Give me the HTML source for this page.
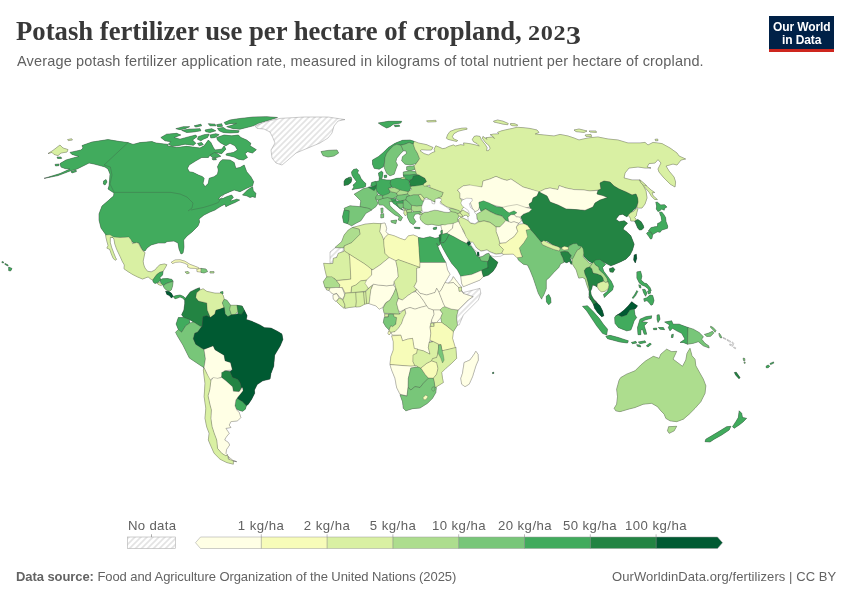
<!DOCTYPE html>
<html><head><meta charset="utf-8"><title>Potash fertilizer use per hectare of cropland, 2023</title>
<style>
html,body{margin:0;padding:0;background:#fff;}
body{width:850px;height:600px;position:relative;overflow:hidden;font-family:"Liberation Sans",sans-serif;}
.t{position:absolute;white-space:nowrap;line-height:1;transform-origin:0 0;will-change:transform;}
#title{left:16px;top:18.2px;font-family:"Liberation Serif",serif;font-weight:bold;font-size:26.7px;color:#383838;}
.os{display:inline-block;font-size:20.2px;transform:scaleX(1.2);transform-origin:0 100%;letter-spacing:.55px;margin-right:5.4px}
.os3{display:inline-block;font-size:24.6px;transform:scaleX(1.22);transform-origin:0 100%;position:relative;top:3.5px}
#sub{left:16.5px;top:54.3px;font-size:14.5px;letter-spacing:.16px;color:#616161;}
#logo{position:absolute;left:769px;top:16px;width:65px;height:36px;background:#002147;}
#logo:after{content:"";position:absolute;left:0;right:0;bottom:0;height:3px;background:#ce261e;}
#logo .t{color:#fff;font-weight:bold;font-size:12px;letter-spacing:-.1px;}
.ft{font-size:13px;color:#636363;top:570.2px;}
#f1{letter-spacing:-.075px}
#f2{letter-spacing:.08px}
.lg{font-size:13.2px;color:#616161;top:518.8px;letter-spacing:.3px}
.c{transform:translateX(-50%);letter-spacing:.45px}
svg{position:absolute;left:0;top:0;}
#map path{stroke:#3c3c3c;stroke-width:.35;stroke-linejoin:round;stroke-opacity:.75}
</style></head><body>
<div id="title" class="t">Potash fertilizer use per hectare of cropland, <span class="os">202</span><span class="os3">3</span></div>
<div id="sub" class="t">Average potash fertilizer application rate, measured in kilograms of total nutrient per hectare of cropland.</div>
<div id="logo"><div class="t" id="lg1" style="left:3.6px;top:5.2px">Our World</div><div class="t" id="lg2" style="left:13.2px;top:17.5px">in Data</div></div>
<svg width="850" height="600" viewBox="0 0 850 600">
<defs>
<pattern id="hatch" width="6" height="6" patternUnits="userSpaceOnUse"><rect width="6" height="6" fill="#fff"/><path d="M-1.5,1.5L1.5,-1.5M-1,7L7,-1M4.5,7.5L7.5,4.5" stroke="#e3e3e3" stroke-width="1.6"/></pattern>
</defs>
<g id="map">
<path d="M44,178.4 52,176 60,173.6 70,169 65,168.6 61,167 60,163.6 66,160 73,158 79,156.4 72,154.4 70,152.4 81,150 83,148 82,145.6 92,142 108,139.6 120,141.6 128,142.6 133,144.4 140,142.6 152,141.6 156,143 168,144.4 167.5,145.83 176.67,147.5 186.67,146.33 200,148 204.17,145.83 208.33,140 210.83,142.5 213.33,147.5 215,150 221.67,149.17 224.17,145.83 225.83,149.17 221.67,153.67 215.83,152.5 210,155 208.33,157.5 201.67,157.5 195.83,160.83 189.17,165 187.5,168.33 189.17,171.67 193.33,172.5 198.33,175 202.5,176.67 204.17,178.33 203,183.33 205,186.67 208.33,183.33 209.17,178.33 214.17,176.67 217.5,174.17 218.33,170 217.5,166.67 220,161.67 222.5,159.67 230,160 234.17,162.5 235.83,168.33 240,167.5 244.17,165 246.67,171.67 250.83,176.67 253.67,181.67 252.5,185.83 246.67,188.33 240,191.67 234.17,190 230,191.67 224.17,194.17 220,196.67 218.33,199.17 223.33,198.33 226.67,196.67 231.67,195 233.33,197.5 230,200.83 231.67,200.83 236.67,199.17 239.67,200 235,202.5 229.17,205 225.83,206.67 225,204.17 221.67,205.83 217.5,208.33 215,210 215,210 210,212 204,215 199,219 199.6,222 198,226 192,232 187,236 183.6,240 184,247 183,253 181,254 179,249 178,243 174,241 167,241.6 165,243 158,243 151,245 147,248 145,251 142.4,250 139,243 133,242.4 130,239 123,237.6 114,238 106,235 101,228 99,220 99,214 102,206 109,200 110,199 113.6,196 114,193 111,191 108,189 109,186 109.6,180 110,174 108,169 105,167 100,165.6 94,164 89,163 83,166 77,169 70,171 58,175.6Z" fill="#41ab5d" stroke="#41ab5d" stroke-width="1.3" stroke-opacity="1"/>
<path d="M242.5,195 247.5,190 252.5,186.67 253.33,190.83 255.83,193.33 255.33,197.5 252.5,196.67 250,197.5 246.67,195.83Z" fill="#41ab5d" stroke="#41ab5d" stroke-width="1.3" stroke-opacity="1"/>
<path d="M216.67,137.5 224.17,135 231.67,135.83 238.33,135 240.83,137.5 246.67,140 250.83,143.33 250,145.83 256.33,149.67 252.5,153 247.5,151.67 245,153.67 247.5,157.5 243.33,160 238.33,159.17 234.17,157 225.83,155 226.67,153.67 233.33,152.5 237.5,150 235,145.83 230,143.33 225.83,145.83 220,142.5 217.5,140Z" fill="#41ab5d" stroke="#41ab5d" stroke-width="1.3" stroke-opacity="1"/>
<path d="M224.17,122.5 230,120 238.33,118.67 253.33,117 266.67,116.67 277.5,117.5 268.33,120.33 258.33,123.33 253.33,125.83 246.67,127.5 240,129.17 233.33,128.67 226.67,126.67 231.67,125.33 236.67,123.33 230,123.67 225.83,124.67Z" fill="#41ab5d" stroke="#41ab5d" stroke-width="1.3" stroke-opacity="1"/>
<path d="M217.5,128.33 223.33,127.5 226.67,129.67 233.33,130.33 239.17,130.83 238.33,132.5 230,133 223.33,132.5 219.17,130.83Z" fill="#41ab5d" stroke="#41ab5d" stroke-width="1.3" stroke-opacity="1"/>
<path d="M175.83,128.67 183.33,126.67 189.67,126.67 185,128.67 180,129.67Z" fill="#41ab5d" stroke="#41ab5d" stroke-width="1.3" stroke-opacity="1"/>
<path d="M181.67,130.33 189.17,129.17 200,128.67 200.83,130.83 193.33,132 186.67,132.5Z" fill="#41ab5d" stroke="#41ab5d" stroke-width="1.3" stroke-opacity="1"/>
<path d="M194.17,125.83 200.83,124.17 201.67,125.83 195.83,127Z" fill="#41ab5d" stroke="#41ab5d" stroke-width="1.3" stroke-opacity="1"/>
<path d="M208.33,123.67 215,124.17 215.83,125.83 210,125.83Z" fill="#41ab5d" stroke="#41ab5d" stroke-width="1.3" stroke-opacity="1"/>
<path d="M205,130 211.67,128.67 215.83,130.83 210,132.5 205.83,131.67Z" fill="#41ab5d" stroke="#41ab5d" stroke-width="1.3" stroke-opacity="1"/>
<path d="M216.67,124.67 221.67,123.67 222.5,126.33 217.5,126.67Z" fill="#41ab5d" stroke="#41ab5d" stroke-width="1.3" stroke-opacity="1"/>
<path d="M160.83,137.5 166.67,134.17 176.67,133.33 180.83,135 174.17,137.5 180,139.17 189.17,136.67 195.83,135 197,136.67 192.5,140 195.83,143.33 193.33,145.33 185,144.17 177.5,145.83 172.5,146.33 168.33,144.17 170.83,141.67 165,140.83Z" fill="#41ab5d" stroke="#41ab5d" stroke-width="1.3" stroke-opacity="1"/>
<path d="M198.33,136.67 204.17,134.67 209.17,134.17 207.5,137.5 203.33,139.17 200.83,140.83 197.5,139.17Z" fill="#41ab5d" stroke="#41ab5d" stroke-width="1.3" stroke-opacity="1"/>
<path d="M210,135 215.83,133.67 219.17,134.67 215,137.5 210.83,138Z" fill="#41ab5d" stroke="#41ab5d" stroke-width="1.3" stroke-opacity="1"/>
<path d="M197.5,143.33 201.67,142.5 203.33,144.67 199.17,145.83Z" fill="#41ab5d" stroke="#41ab5d" stroke-width="1.3" stroke-opacity="1"/>
<path d="M210,155.33 214.17,152.5 217.5,153.67 220.83,156.33 216.67,157.5 212.5,157.5Z" fill="#41ab5d" stroke="#41ab5d" stroke-width="1.3" stroke-opacity="1"/>
<path d="M212,158.67 215.83,158 216.33,159.67 213,160Z" fill="#41ab5d" stroke="#41ab5d" stroke-width="1.3" stroke-opacity="1"/>
<path d="M103.6,181 106,179.6 107,182 105,185 103.4,184Z" fill="#41ab5d" stroke="#41ab5d" stroke-width="1.3" stroke-opacity="1"/>
<path d="M71,171.6 76,170 76.4,171.6 72,173Z" fill="#41ab5d" stroke="#41ab5d" stroke-width="1.3" stroke-opacity="1"/>
<path d="M57,157 61,157 61.6,158.4 57.6,158.4Z" fill="#41ab5d" stroke="#41ab5d" stroke-width="1.3" stroke-opacity="1"/>
<path d="M55,164.4 59,164 59,165.6 55.6,166Z" fill="#41ab5d" stroke="#41ab5d" stroke-width="1.3" stroke-opacity="1"/>
<path d="M48,153.6 53,150.4 60,145 63,148 68,149.6 67,152 61,153 58,155.6 54,154.4 52,152.4Z" fill="#d9f0a3" stroke="#d9f0a3" stroke-width="1.3" stroke-opacity="1"/>
<path d="M67.6,139.6 71.6,138.8 72.4,140 68.4,140.6Z" fill="#d9f0a3" stroke="#d9f0a3" stroke-width="1.3" stroke-opacity="1"/>
<path d="M321,151.6 328,150.4 337,150 338.6,153 334,156 328,157 323,155.6Z" fill="#78c679" stroke="#78c679" stroke-width="1.3" stroke-opacity="1"/>
<path d="M197,269 201,268.4 201,272 197,271.6Z" fill="#f7fcb9" stroke="#f7fcb9" stroke-width="1.3" stroke-opacity="1"/>
<path d="M201,268.4 206,269 207.6,271.6 204,273 201,272.4Z" fill="#78c679" stroke="#78c679" stroke-width="1.3" stroke-opacity="1"/>
<path d="M210,271.6 214,271.6 214,273 210,273Z" fill="#addd8e" stroke="#addd8e" stroke-width="1.3" stroke-opacity="1"/>
<path d="M220.4,292 223,291.6 223,294 221,294Z" fill="#41ab5d" stroke="#41ab5d" stroke-width="1.3" stroke-opacity="1"/>
<path d="M105.62,235 110,234.75 113.75,236.88 120,237.5 125,237.25 128.75,236.88 131.25,240 132.5,243.75 136.88,242.5 138.75,243.75 140.62,247.5 143.12,251.25 145,252.5 144,256.88 143.12,261.25 143.75,265 145,268.12 147.5,271.25 151.25,271.88 155,270 157.5,266.88 160,264.75 164.38,264 166.88,264.75 165,268.12 163.12,271.25 160,272.25 156.88,274.38 155,276.88 152.75,280 151.25,279.38 148.12,276.88 142.5,279 137.5,276.88 132.5,274.38 127.5,271.25 124,268.75 124.38,265 122.25,261.25 120.62,257.5 118.5,253.12 116.5,248.75 114.75,243.75 114,239 112.5,237.25 110.25,237.5 110.25,242.5 111.62,247.5 113.5,252.5 115.38,257.25 116.5,259.38 115,260.25 113.12,258.12 111.25,253.75 109.75,249.38 106.88,248.12 108.12,245.62 106.88,241.25 106,237.5Z" fill="#d9f0a3" stroke="#d9f0a3" stroke-width="1.3" stroke-opacity="1"/>
<path d="M152.75,280 155,276.88 156.88,274.38 160,272.25 163.12,271.5 162.5,275 160,277.5 160.62,280 158.12,282.5 155,283.5 153.12,281.88Z" fill="#41ab5d" stroke="#41ab5d" stroke-width="1.3" stroke-opacity="1"/>
<path d="M160,280 162.5,278.75 167.5,278.5 171.88,279.38 173.12,281.25 168.75,282.5 165.62,283.75 163.12,285.62 161.25,283.75Z" fill="#41ab5d" stroke="#41ab5d" stroke-width="1.3" stroke-opacity="1"/>
<path d="M157.25,282.75 160,282.75 162.25,284.38 161.25,285.62 158.12,284.38Z" fill="#d9f0a3" stroke="#d9f0a3" stroke-width="1.3" stroke-opacity="1"/>
<path d="M163.12,285.88 166,283.75 168.75,282.75 173.12,281.5 172.5,286.25 171.25,290 169.38,291.25 166.25,290 164.38,288.12Z" fill="#78c679" stroke="#78c679" stroke-width="1.3" stroke-opacity="1"/>
<path d="M165.62,291.25 168.75,291.5 171.25,293.12 173.12,296.25 171.5,298.12 169.38,295.62 166.88,294.38Z" fill="#005a32" stroke="#005a32" stroke-width="1.3" stroke-opacity="1"/>
<path d="M173.12,296.5 176.25,295.62 180,295 183.12,296.25 185.25,298.12 186.88,300 184.38,299.75 182.5,298.12 180,296.88 177.5,298.12 175,298.75Z" fill="#41ab5d" stroke="#41ab5d" stroke-width="1.3" stroke-opacity="1"/>
<path d="M171.25,262.25 175,260 180,259.75 185,261.25 190,264.38 195,266.25 198.75,267.75 198.5,269 195,268.38 190,268.12 187.5,266.88 188.12,265 184.38,263.12 180,261.88 175.62,262.25 172.5,263.5Z" fill="#f7fcb9" stroke="#f7fcb9" stroke-width="1.3" stroke-opacity="1"/>
<path d="M185,271.88 188.12,271.5 189.38,273.12 186.88,273.75Z" fill="#addd8e" stroke="#addd8e" stroke-width="1.3" stroke-opacity="1"/>
<path d="M184.76,299.26 190.26,291.92 195.76,289.17 199.43,287.7 199.98,290.09 196.68,292.84 195.76,297.42 198.51,301.09 206.76,302.92 207.31,310.26 210.43,317.59 206.76,315.76 203.1,316.68 202.18,326.76 199.43,325.85 193.93,322.18 189.34,319.43 183.84,317.59 181.64,314.84 183.84,310.26 184.76,303.84Z" fill="#238443" stroke="#238443" stroke-width="1.3" stroke-opacity="1"/>
<path d="M196.68,292.84 199.98,290.09 203.1,288.8 206.76,291.37 215.02,293.2 221.43,293.2 223.27,295.59 224.18,299.26 222.35,302.92 224.18,307.51 219.6,309.34 215.93,310.26 215.02,313.93 210.43,317.59 207.31,310.26 206.76,302.92 198.51,301.09 195.76,297.42Z" fill="#d9f0a3" stroke="#d9f0a3" stroke-width="1.3" stroke-opacity="1"/>
<path d="M224.18,299.26 226.94,300.17 230.6,305.31 229.69,309.34 231.52,314.84 227.85,316.68 225.1,313.93 224.18,307.51 222.35,302.92Z" fill="#78c679" stroke="#78c679" stroke-width="1.3" stroke-opacity="1"/>
<path d="M230.6,305.31 237.02,305.31 237.94,311.18 235.19,314.48 231.52,314.84 229.69,309.34Z" fill="#addd8e" stroke="#addd8e" stroke-width="1.3" stroke-opacity="1"/>
<path d="M237.02,305.31 242.16,306.04 244.36,310.26 241.61,314.48 237.94,313.93 237.94,311.18Z" fill="#238443" stroke="#238443" stroke-width="1.3" stroke-opacity="1"/>
<path d="M178.34,317.59 183.84,317.59 189.34,319.43 189.71,323.1 185.67,325.85 181.64,332.26 178.34,329.51 176.14,324.01Z" fill="#41ab5d" stroke="#41ab5d" stroke-width="1.3" stroke-opacity="1"/>
<path d="M175.59,332.26 178.34,329.51 181.64,332.26 185.67,325.85 189.71,323.1 193.93,322.18 199.43,325.85 201.26,327.31 197.59,332.26 194.84,333.18 193.38,338.68 195.76,344.18 201.26,347.85 204.01,349.69 205.48,358.86 204.01,367.66 199.43,364.72 189.34,357.94 182.92,345.1 177.42,335.93Z" fill="#78c679" stroke="#78c679" stroke-width="1.3" stroke-opacity="1"/>
<path d="M204.01,349.32 213.18,345.65 215.02,349.69 224.18,355.19 225.1,360.69 230.6,362.52 232.44,369.86 224.18,370.78 221.43,377.19 216.85,379.03 212.26,378.11 209.51,380.86 206.76,373.53 204.01,367.66 205.48,358.86Z" fill="#ffffe5" stroke="#ffffe5" stroke-width="1.3" stroke-opacity="1"/>
<path d="M210.43,317.59 215.02,313.93 215.93,310.26 219.6,309.34 224.18,307.51 225.1,313.93 227.85,316.68 231.52,314.84 235.19,314.48 237.94,313.93 241.61,314.48 244.36,310.26 247.11,315.76 246.19,319.43 251.69,321.26 259.94,324.93 264.53,327.68 270.95,328.05 277.37,331.35 281.95,334.1 282.87,339.6 280.12,346.02 277.37,350.6 274.62,355.19 273.7,366.19 270.95,373.53 270.03,379.03 262.7,380.86 257.19,384.53 254.44,390.03 254.67,393.33 251.67,399.17 248.33,404.17 246.33,405.83 242.5,401.67 237.5,398.67 237.5,397.5 243,390.83 242.5,387.5 241.33,387.5 240,382.5 237.5,379.17 232.5,377.5 230,371.67 232.44,369.86 230.6,362.52 225.1,360.69 224.18,355.19 215.02,349.69 213.18,345.65 204.01,349.32 201.26,347.85 195.76,344.18 193.38,338.68 194.84,333.18 197.59,332.26 201.26,327.31 202.18,326.76 203.1,316.68 206.76,315.76Z" fill="#005a32" stroke="#005a32" stroke-width="1.3" stroke-opacity="1"/>
<path d="M221.67,377.5 221.67,372.5 225.83,370.83 230,371.67 232.5,377.5 237.5,379.17 240,382.5 241.33,387.5 239.17,391.67 233.33,391.33 232.5,386.67 225.83,380.83Z" fill="#238443" stroke="#238443" stroke-width="1.3" stroke-opacity="1"/>
<path d="M235.83,400 237.5,398.67 242.5,401.67 246.33,405.83 245.33,409.17 242.5,411.33 238.33,410 235.83,408.33 235,405.83Z" fill="#41ab5d" stroke="#41ab5d" stroke-width="1.3" stroke-opacity="1"/>
<path d="M210.83,380.83 213.33,377.5 217.5,378.33 221.67,377.5 225.83,380.83 232.5,386.67 233.33,391.33 239.17,391.67 242.5,387.5 243,390.83 237.5,397.5 235.83,400 235,405.83 236.67,410 239.17,412.5 240.83,417.5 237.5,420.83 230.83,421.67 229.17,425 230.83,427.5 225.83,428.33 227.5,430.83 229.17,433.33 225.83,437.5 224.67,440 228.33,442.5 229.67,445 226.67,449.17 225.83,453.33 227.5,455 225.83,455.83 221.67,453.33 217.5,448.33 216.67,440 214.17,433.33 212,426.67 210.83,418.33 211.33,410 210,405 208,395.83 209.67,390Z" fill="#ffffe5" stroke="#ffffe5" stroke-width="1.3" stroke-opacity="1"/>
<path d="M228,456.33 233.33,460.83 236.67,461.67 230,460Z" fill="#ffffe5" stroke="#ffffe5" stroke-width="1.3" stroke-opacity="1"/>
<path d="M204.01,367.66 206.76,373.53 210.83,380.83 209.67,390 208,395.83 210,405 211.33,410 210.83,418.33 212,426.67 214.17,433.33 216.67,440 217.5,448.33 221.67,453.33 225.83,455.83 227.5,455 228.33,459.17 233.33,460.83 233.33,464.17 226.67,462.5 220,459.17 214.17,453.33 210.83,445.83 208.33,440 209.17,433.33 206.67,426.67 205,418.33 205.83,408.33 204.17,396.67 205,383.33 203.33,370Z" fill="#d9f0a3" stroke="#d9f0a3" stroke-width="1.3" stroke-opacity="1"/>
<path d="M378.33,123 388.33,121.33 401.67,121.33 400.83,123 393.33,124.17 390,126.67 386.67,128 381.67,125.33Z" fill="#41ab5d" stroke="#41ab5d" stroke-width="1.3" stroke-opacity="1"/>
<path d="M394.17,125.33 399.17,125 399.67,126.33 395,126.67Z" fill="#41ab5d" stroke="#41ab5d" stroke-width="1.3" stroke-opacity="1"/>
<path d="M426.67,120.83 435.83,120.33 436.17,121.67 427.5,122Z" fill="#d9f0a3" stroke="#d9f0a3" stroke-width="1.3" stroke-opacity="1"/>
<path d="M372.5,160 378.33,156.67 383.33,152.5 388.33,147.5 395,143.33 402.5,140.33 410,140 414.17,141.33 413.33,144.17 409.17,142.5 405,144.17 400.83,145 396.67,144.17 393.33,145.83 390,149.17 386.67,153.33 385,157.5 384.67,161.67 383.33,166.67 379.17,169.17 374.17,168.33 372.5,164.17Z" fill="#41ab5d" stroke="#41ab5d" stroke-width="1.3" stroke-opacity="1"/>
<path d="M385,157.5 386.67,153.33 390,149.17 393.33,145.83 396.67,144.33 400.83,145.33 402,147.5 403.33,150.83 400,154.17 396.67,158.33 395.83,161.67 397.5,165 395.83,169.17 394.17,174.17 390,175.83 386.67,173.33 384.17,167.5 384.67,161.67Z" fill="#78c679" stroke="#78c679" stroke-width="1.3" stroke-opacity="1"/>
<path d="M400.83,145.33 405,144.17 409.17,142.5 413.33,144.17 415,149.17 417.5,153.33 419.67,158.67 415.83,163.67 410,165 405,164.17 401.67,160.83 402.5,156.67 406.67,153.33 405.83,150.83 403.33,150.83 402,147.5Z" fill="#78c679" stroke="#78c679" stroke-width="1.3" stroke-opacity="1"/>
<path d="M406.67,166.67 414.17,165.83 415,169.17 410,170.83 406.67,170Z" fill="#78c679" stroke="#78c679" stroke-width="1.3" stroke-opacity="1"/>
<path d="M403.33,172 410,170.83 415.83,171.67 416.67,174.17 410,175 403.33,175Z" fill="#78c679" stroke="#78c679" stroke-width="1.3" stroke-opacity="1"/>
<path d="M403.33,175 410,175 416.67,174.17 419.17,175 413.33,176.17 412.5,179.17 408.33,180.33 404.17,178.33Z" fill="#41ab5d" stroke="#41ab5d" stroke-width="1.3" stroke-opacity="1"/>
<path d="M409.17,180.83 412.5,179.17 413.33,176.17 419.17,175 425,178.33 426.67,181.67 423.33,184.17 424.17,186.33 418.33,186.67 411.67,185.83 410.83,187.5Z" fill="#238443" stroke="#238443" stroke-width="1.3" stroke-opacity="1"/>
<path d="M390.83,180 396.67,178.33 403.33,178 404.17,178.33 408.33,180.33 409.17,180.83 409.17,183.33 410.83,187.5 409.17,191.33 403.33,192 397.5,189.5 391.67,187 390,183.33Z" fill="#41ab5d" stroke="#41ab5d" stroke-width="1.3" stroke-opacity="1"/>
<path d="M375.83,181.67 379.17,180.83 379.17,178.33 381.67,179.17 386.67,180 390.83,180 390,183.33 391.67,187 388.33,188.33 390,191.67 388.33,195.33 383.33,196 378.67,193.67 375.83,189.5 376.33,185Z" fill="#41ab5d" stroke="#41ab5d" stroke-width="1.3" stroke-opacity="1"/>
<path d="M371.67,182.5 375.83,181.33 376.33,185 373.33,186.67 370.83,185.83Z" fill="#41ab5d" stroke="#41ab5d" stroke-width="1.3" stroke-opacity="1"/>
<path d="M368.33,187 373.33,186.67 376.33,185.33 375.83,189.5 373.33,191.17 370,189.67Z" fill="#238443" stroke="#238443" stroke-width="1.3" stroke-opacity="1"/>
<path d="M354.17,194.17 360,190.83 363.33,188.67 368.33,187.5 374.17,190.83 375.83,188.33 376.67,190.83 377.5,195 375.83,196.67 375.83,199.17 378,203.33 375.83,206.67 371.67,209.67 368.33,208.33 360,206.67 360.83,200.83 356.67,196.67Z" fill="#78c679" stroke="#78c679" stroke-width="1.3" stroke-opacity="1"/>
<path d="M380.83,208.33 383,208 383,212.5 381.33,213.33Z" fill="#78c679" stroke="#78c679" stroke-width="1.3" stroke-opacity="1"/>
<path d="M344.17,208.33 350,205.83 360,206.67 368.33,208.33 371.67,210 365.83,213.33 362.5,218.33 360.83,220.83 355.83,223.33 351.67,225.83 347.5,223.67 348.67,220 349.17,210.83 344.67,210Z" fill="#78c679" stroke="#78c679" stroke-width="1.3" stroke-opacity="1"/>
<path d="M344.17,210 349.17,210.83 348.67,220 347.5,223.67 343.67,222.5 342.5,216.67Z" fill="#41ab5d" stroke="#41ab5d" stroke-width="1.3" stroke-opacity="1"/>
<path d="M378,200.83 378.33,200 383,198.33 387.5,197.5 392.5,199.17 393.33,201.67 389.17,201.67 390,205.83 394.17,210 399.17,214.17 402.5,217.5 400.83,220.83 398.33,220 399.17,216.67 395,215 390.83,211.67 386.67,208.33 383.33,205 379.17,205Z" fill="#78c679" stroke="#78c679" stroke-width="1.3" stroke-opacity="1"/>
<path d="M390.83,220.83 396.67,220 395.83,223.67 391.67,222.5Z" fill="#78c679" stroke="#78c679" stroke-width="1.3" stroke-opacity="1"/>
<path d="M380.83,214.17 383.67,213.67 383.67,217.5 380.83,218Z" fill="#78c679" stroke="#78c679" stroke-width="1.3" stroke-opacity="1"/>
<path d="M375.83,196.67 377.5,195 382.5,195.83 383,198.33 378.33,200 375.83,199.17Z" fill="#78c679" stroke="#78c679" stroke-width="1.3" stroke-opacity="1"/>
<path d="M382.5,195.83 388.33,193.67 390.83,191.67 396.67,193 397.5,195.33 396.67,196.67 392.5,198.67 387.5,197.5 383,198.33Z" fill="#78c679" stroke="#78c679" stroke-width="1.3" stroke-opacity="1"/>
<path d="M388.33,188.33 394.17,187.5 400,190 396.67,193 390.83,191.67Z" fill="#addd8e" stroke="#addd8e" stroke-width="1.3" stroke-opacity="1"/>
<path d="M396.67,193 400,190 408.33,191.67 407.5,194 401.67,195 397.5,195.33Z" fill="#addd8e" stroke="#addd8e" stroke-width="1.3" stroke-opacity="1"/>
<path d="M396.67,196.67 397.5,195.33 401.67,195 407.5,194 410,195.83 406.67,196.67 405.83,200 403.33,200.33 400,201.17 395.83,198.67Z" fill="#78c679" stroke="#78c679" stroke-width="1.3" stroke-opacity="1"/>
<path d="M390.83,199.17 392.5,198.67 395.83,198.67 395.83,200.83 392,201.33Z" fill="#41ab5d" stroke="#41ab5d" stroke-width="1.3" stroke-opacity="1"/>
<path d="M392,201.33 395.83,200.83 400,201.17 403.33,200.33 403.33,203.33 396.67,203.33 399.17,206.67 403.33,210.33 400,208.67 395.83,205 393.33,203.33Z" fill="#41ab5d" stroke="#41ab5d" stroke-width="1.3" stroke-opacity="1"/>
<path d="M396.67,203.33 403.33,203.33 403.33,207.5 400.83,208.67 398.33,206.33Z" fill="#78c679" stroke="#78c679" stroke-width="1.3" stroke-opacity="1"/>
<path d="M403.33,200.33 405.83,200 408.33,201.67 411.67,205.33 411.33,209.17 408.33,209.67 405,208.67 403.33,207.5Z" fill="#78c679" stroke="#78c679" stroke-width="1.3" stroke-opacity="1"/>
<path d="M403.33,207.5 405,208.67 406.33,210.33 404.17,210.33Z" fill="#addd8e" stroke="#addd8e" stroke-width="1.3" stroke-opacity="1"/>
<path d="M406.67,196.67 413.33,194.67 418.33,194.67 421.33,200 423.33,201.33 425.83,201.67 425,205.33 416.67,206.17 411.67,205.33 408.33,201.67 405.83,200Z" fill="#78c679" stroke="#78c679" stroke-width="1.3" stroke-opacity="1"/>
<path d="M418.33,194.67 420.83,194.17 424.17,198.33 423.33,201.33 421.33,200Z" fill="#d9f0a3" stroke="#d9f0a3" stroke-width="1.3" stroke-opacity="1"/>
<path d="M411.67,205.33 416.67,206.17 425,205.33 424.17,209.17 420.83,211.33 414.17,212 411.33,209.17Z" fill="#addd8e" stroke="#addd8e" stroke-width="1.3" stroke-opacity="1"/>
<path d="M407,212.5 411.67,212 420,211.33 420.83,213.33 415,214.17 413.33,217.5 415.83,221.67 413.33,224.67 410,222.5 407.5,217.5Z" fill="#78c679" stroke="#78c679" stroke-width="1.3" stroke-opacity="1"/>
<path d="M404.17,210.33 406.33,210.33 407,214.17 405.33,215.83 403.83,213.33Z" fill="#d9f0a3" stroke="#d9f0a3" stroke-width="1.3" stroke-opacity="1"/>
<path d="M406.33,210.33 408.33,209.67 411.33,209.17 411.67,212 407,212.5Z" fill="#addd8e" stroke="#addd8e" stroke-width="1.3" stroke-opacity="1"/>
<path d="M414.17,227.17 420,227.5 419.67,228.83 414.67,228.33Z" fill="#41ab5d" stroke="#41ab5d" stroke-width="1.3" stroke-opacity="1"/>
<path d="M433,228 436.67,227 436.33,229.17 433.67,229.5Z" fill="#41ab5d" stroke="#41ab5d" stroke-width="1.3" stroke-opacity="1"/>
<path d="M410,186.67 416.67,185.83 423.33,184.67 430,187.5 436.67,190 443.33,192.5 441.67,196.67 437.5,198.33 434.17,201.67 436.67,199.67 440,198.67 440.83,201.33 435.83,202.5 430,199.67 426.67,197.5 424.17,198.33 420.83,194.17 418.33,194.67 413.33,194.67 410,195.83 407.5,194 408.33,191.67 411.67,189.17Z" fill="#addd8e" stroke="#addd8e" stroke-width="1.3" stroke-opacity="1"/>
<path d="M351.5,172 353.5,169.5 356.5,168.8 358.5,170.5 357.5,173 359.5,175 361,178.5 363.5,181.5 365.8,183.5 365.5,186.5 362.5,187.8 358,188.5 355,189 352,189.8 354,187 353,185 355,183.5 356.5,181.5 355,179.5 353.5,177.5 352,175Z" fill="#41ab5d" stroke="#41ab5d" stroke-width="1.3" stroke-opacity="1"/>
<path d="M348.5,177.5 351,177 351.8,179.2 350,179.5Z" fill="#41ab5d" stroke="#41ab5d" stroke-width="1.3" stroke-opacity="1"/>
<path d="M344,181.5 345.5,179 348.5,177.8 350,179.5 351.8,179.5 351,182.5 348,184.8 344,185.5Z" fill="#238443" stroke="#238443" stroke-width="1.3" stroke-opacity="1"/>
<path d="M378.5,173 381.5,171.2 383,172.5 382.5,175.5 382,178.5 379.5,178.2 378.8,175.5Z" fill="#41ab5d" stroke="#41ab5d" stroke-width="1.3" stroke-opacity="1"/>
<path d="M384,175.5 386.5,175 386.8,177.2 384.5,177.8Z" fill="#41ab5d" stroke="#41ab5d" stroke-width="1.3" stroke-opacity="1"/>
<path d="M401,177.8 405,177.2 405.5,178.8 401.5,179Z" fill="#d9f0a3" stroke="#d9f0a3" stroke-width="1.3" stroke-opacity="1"/>
<path d="M380.83,223.67 385,223 386.67,228.33 385.83,231.67 388.33,234.17 385,237.5 383.67,240 381.67,235 379.67,231.67Z" fill="#ffffe5" stroke="#ffffe5" stroke-width="1.3" stroke-opacity="1"/>
<path d="M352.5,227.5 359.17,225.83 365,224.17 373.33,223.33 380.83,223.67 379.67,231.67 381.67,235 383.67,240 384.17,246.67 385,253.33 389.17,257.5 380,265 372.5,270 365,264.17 349.17,254.17 344.17,250.83 344.17,245.83 351.67,242.5 360,234.17 359.17,229.17Z" fill="#d9f0a3" stroke="#d9f0a3" stroke-width="1.3" stroke-opacity="1"/>
<path d="M335,247.5 341.67,241.67 344.17,235 348.33,230 352.5,227.5 359.17,229.17 360,234.17 351.67,242.5 344.17,245.83 343.33,248Z" fill="#addd8e" stroke="#addd8e" stroke-width="1.3" stroke-opacity="1"/>
<path d="M385,237.5 388.33,234.17 394.17,235.83 400,238.33 405,240 408.33,235.83 413.33,235 417.5,236.67 418.33,237.5 419.17,250 420,262.5 420,267.5 398.33,259.67 395.83,260.83 389.17,257.5 385,253.33 384.17,246.67 383.67,240Z" fill="#f7fcb9" stroke="#f7fcb9" stroke-width="1.3" stroke-opacity="1"/>
<path d="M418.33,237.5 423.33,238.33 430,236.67 435,238.33 439.17,237.5 440.33,244.17 438.33,245.83 436.67,243.33 439.17,250 443.33,258.33 445.83,262.5 420,262.5 419.17,250Z" fill="#41ab5d" stroke="#41ab5d" stroke-width="1.3" stroke-opacity="1"/>
<path d="M330,263.67 333,263.33 333.33,258.33 336.67,257.5 338.33,253.33 343.33,251.67 344.17,250.83 349.17,254.17 350,260 350.83,279.17 336.67,280.33 334.17,278.33 326.67,276.67 325,270 323.67,263.33Z" fill="#d9f0a3" stroke="#d9f0a3" stroke-width="1.3" stroke-opacity="1"/>
<path d="M323.33,281.67 326.67,277 331.67,276.67 335,279.17 336.67,280.83 340,285 339.17,287.5 335.83,287.5 330,288 325,287.5Z" fill="#addd8e" stroke="#addd8e" stroke-width="1.3" stroke-opacity="1"/>
<path d="M325.83,288 330,288 329.17,290.33 326.67,290Z" fill="#d9f0a3" stroke="#d9f0a3" stroke-width="1.3" stroke-opacity="1"/>
<path d="M329.17,290.33 330,288 335.83,287.5 341.67,287.5 343.33,290.83 344.67,295 342.5,299.17 340,297.5 336.67,293.33 333.33,294.17 330.83,292.5Z" fill="#ffffe5" stroke="#ffffe5" stroke-width="1.3" stroke-opacity="1"/>
<path d="M333,295 336.67,293.67 339.17,298 335.83,301.33 333.33,299.17Z" fill="#ffffe5" stroke="#ffffe5" stroke-width="1.3" stroke-opacity="1"/>
<path d="M336.67,301.67 339.17,298 342.5,299.67 345,305 344.17,308.33 340,305Z" fill="#d9f0a3" stroke="#d9f0a3" stroke-width="1.3" stroke-opacity="1"/>
<path d="M349.17,254.17 365,264.17 372.5,270 371.67,269.17 371.67,275 366.67,280 360.83,280.83 355.83,285 351.67,286.67 350.83,292.5 345,293 342.5,287.5 339.17,287.5 340,285 336.67,280.83 350.83,279.17 350,260Z" fill="#f7fcb9" stroke="#f7fcb9" stroke-width="1.3" stroke-opacity="1"/>
<path d="M351.67,286.67 355.83,285 360.83,280.83 366.33,280.33 368.33,288.33 365,291.33 355.83,292.17 351.33,292.67Z" fill="#d9f0a3" stroke="#d9f0a3" stroke-width="1.3" stroke-opacity="1"/>
<path d="M345,293.33 350.83,292.83 355.83,292.5 356.33,301.67 355.83,306.67 349.17,307.5 345,308.33 345,305 343,300 344.67,295.83Z" fill="#d9f0a3" stroke="#d9f0a3" stroke-width="1.3" stroke-opacity="1"/>
<path d="M355.83,292.5 363.67,292 364.67,304.17 360,306.67 355.83,307 356.33,301.67Z" fill="#d9f0a3" stroke="#d9f0a3" stroke-width="1.3" stroke-opacity="1"/>
<path d="M363.67,292 365.83,291.67 366.67,303.67 364.67,304.17Z" fill="#d9f0a3" stroke="#d9f0a3" stroke-width="1.3" stroke-opacity="1"/>
<path d="M365.83,291.67 368.33,288.67 372.5,285 370.83,290 370,296.67 369.17,303.33 366.67,303.67Z" fill="#d9f0a3" stroke="#d9f0a3" stroke-width="1.3" stroke-opacity="1"/>
<path d="M370.83,290 373.33,284.17 378.33,285 386.67,285.83 393.33,285 395.83,288.33 393.33,294.17 390,300 385.83,302.5 382.5,307.5 379.17,309.17 375.83,305.83 369.17,303.67 370,296.67Z" fill="#ffffe5" stroke="#ffffe5" stroke-width="1.3" stroke-opacity="1"/>
<path d="M372.5,270 380,265 389.17,257.5 395.83,260.83 397.5,268.33 398.33,276.67 394.17,281.67 393.33,285 386.67,285.83 378.33,285 373.33,284.17 368.33,288.33 365,283.33 366.67,280 371.67,275 371.67,269.17Z" fill="#ffffe5" stroke="#ffffe5" stroke-width="1.3" stroke-opacity="1"/>
<path d="M395.83,260.83 398.33,259.67 420,267.5 416.67,268.33 416.67,281.67 414.17,286.67 416.67,289.67 412.5,292.5 407.5,295.83 402.5,300 398.33,298.33 397.5,294.17 395.83,288.33 394.17,281.67 398.33,276.67 397.5,268.33Z" fill="#d9f0a3" stroke="#d9f0a3" stroke-width="1.3" stroke-opacity="1"/>
<path d="M420,262.5 445.83,262.5 447.5,270 450,274.17 447.5,278.33 445,282.5 441.67,289.17 439.17,292.5 436.67,288.33 435,292.5 426.67,295 420,293.33 416.67,289.17 414.17,286.67 416.67,281.67 416.67,268.33 420,267.5Z" fill="#ffffe5" stroke="#ffffe5" stroke-width="1.3" stroke-opacity="1"/>
<path d="M395.83,288.33 397.5,294.17 398.33,298.33 396.67,303.33 398.33,310 399.67,314.17 393.33,313.67 387.5,313.33 384.17,313.33 383,308.33 385.83,303 390,300 393.33,294.17Z" fill="#addd8e" stroke="#addd8e" stroke-width="1.3" stroke-opacity="1"/>
<path d="M398.33,298.67 402.5,300 407.5,295.83 412.5,292.5 415.83,291.67 420,295.83 424.17,301.67 426.67,305.83 420,307.5 415,309.17 410,307.5 405,309.17 400,311.67 398.33,310 396.67,303.33Z" fill="#ffffe5" stroke="#ffffe5" stroke-width="1.3" stroke-opacity="1"/>
<path d="M416.67,289.17 420,293.33 426.67,295 435,292.5 436.67,288.33 439.17,292.5 443.33,303.33 445,306.67 440,310 433.33,310 428.33,308.33 426.67,305.83 424.17,301.67 420,295.83 415.83,291.67Z" fill="#ffffe5" stroke="#ffffe5" stroke-width="1.3" stroke-opacity="1"/>
<path d="M384.67,314.17 388.33,314.17 388.33,316.67 384.67,316.67Z" fill="#d9f0a3" stroke="#d9f0a3" stroke-width="1.3" stroke-opacity="1"/>
<path d="M384.17,317.5 388.33,317 388.67,314.17 393.33,314.17 394.17,316.67 396.67,317.5 395.83,324.17 392.5,326.67 390.83,325.83 389.17,330 385.83,326.67 383.33,322.5Z" fill="#78c679" stroke="#78c679" stroke-width="1.3" stroke-opacity="1"/>
<path d="M393.33,314.17 399.67,314.17 401.67,311.67 405,309.67 405.83,313.33 403.33,318.33 401.67,323.33 398.33,328.33 395,331.67 390.83,332.5 389.17,330 390.83,325.83 392.5,326.67 395.83,324.17 396.67,317.5 394.17,316.67Z" fill="#d9f0a3" stroke="#d9f0a3" stroke-width="1.3" stroke-opacity="1"/>
<path d="M405,309.17 410,307.5 415,309.17 420,307.5 426.67,305.83 428.33,308.33 433.33,310 434.17,314.17 431.67,320 430,326.67 430.83,333.33 430,340 429.17,342.5 433.33,341.67 429.17,342.5 428.33,347.5 430,354.17 428.33,353.33 423.33,350.83 418.33,349.67 417.5,349.17 414.17,348.33 412.5,338.33 407.5,339.17 402.5,340.83 400.83,335.33 400.83,335 392.5,335 390.83,332.5 395,331.67 398.33,328.33 401.67,323.33 403.33,318.33 405.83,313.33Z" fill="#ffffe5" stroke="#ffffe5" stroke-width="1.3" stroke-opacity="1"/>
<path d="M433.33,310 440,310 442.5,313.33 440.83,317.5 436.67,322.5 431.67,322.5 431.67,320 434.17,314.17Z" fill="#ffffe5" stroke="#ffffe5" stroke-width="1.3" stroke-opacity="1"/>
<path d="M442.5,307.5 445,306.67 451.67,309.17 458.33,310 456.67,316.67 457.5,325 453.33,331.67 447.5,326.67 441.67,322.5 440.83,317.5 442.5,313.33 440,310Z" fill="#addd8e" stroke="#addd8e" stroke-width="1.3" stroke-opacity="1"/>
<path d="M430.33,323.67 433.33,323 434.17,326.33 431.33,327Z" fill="#d9f0a3" stroke="#d9f0a3" stroke-width="1.3" stroke-opacity="1"/>
<path d="M430.83,327.5 433.67,327 433.33,330.83 431.33,330.83Z" fill="#d9f0a3" stroke="#d9f0a3" stroke-width="1.3" stroke-opacity="1"/>
<path d="M434.17,323 436.67,322.5 441.67,322.5 447.5,326.67 453.33,331.67 452.5,338.33 455,346.67 455.83,347.5 449.17,349.17 442,350.83 440.83,344.67 438.33,344.17 433.33,341.67 430,340 430.83,333.33 430,326.67 434.17,326.33Z" fill="#f7fcb9" stroke="#f7fcb9" stroke-width="1.3" stroke-opacity="1"/>
<path d="M391.67,335.83 400.83,335.33 402.5,340.83 407.5,339.17 412.5,338.33 414.17,348.33 417.5,349.17 416.67,353.33 413.33,355 413,361.67 415,365.83 410.83,366.17 390,364.5 390.83,356.67 393.33,350 393.33,341.67Z" fill="#f7fcb9" stroke="#f7fcb9" stroke-width="1.3" stroke-opacity="1"/>
<path d="M388.67,330.83 390.83,332.83 389.17,335 388,333.33Z" fill="#f7fcb9" stroke="#f7fcb9" stroke-width="1.3" stroke-opacity="1"/>
<path d="M390,364.67 410.83,366.17 416.67,365.83 418.33,367 410.83,368 408.33,378.33 408,387.5 407,395.83 403.33,395 400,394.17 396.67,387.5 395,378.33 391.67,370Z" fill="#ffffe5" stroke="#ffffe5" stroke-width="1.3" stroke-opacity="1"/>
<path d="M410.83,368 418.33,367 420.83,368 425,374.17 428.33,378.33 423.33,383.33 420,387.5 415,386.67 410.83,390 408.33,387.5 408.33,378.33Z" fill="#78c679" stroke="#78c679" stroke-width="1.3" stroke-opacity="1"/>
<path d="M420.83,368 426.67,363.33 431.67,360.83 436.67,362.5 438,368.33 436.67,374.17 433.33,378.33 428.33,378 425,374.17Z" fill="#f7fcb9" stroke="#f7fcb9" stroke-width="1.3" stroke-opacity="1"/>
<path d="M413,355 416.67,353.33 417.5,349.17 418.33,349.67 423.33,350.83 428.33,353.33 430,354.17 428.33,347.5 429.17,342.5 433.33,341.67 438.33,344.17 438.67,348.33 437.5,355 436.67,357.5 432.5,358.67 431.67,360.83 426.67,363.33 420.83,368 418.33,367 416.67,365.83 415,365.83 413,361.67Z" fill="#d9f0a3" stroke="#d9f0a3" stroke-width="1.3" stroke-opacity="1"/>
<path d="M442,350.83 449.17,349.17 455.83,347.5 456.67,358.33 451.67,363.33 445.83,368.33 441.67,372.5 442.5,378.33 443.33,382.5 436.67,386.67 435,387.5 434.17,381.67 433.33,378.33 436.67,374.17 438,368.33 436.67,362.5 431.67,360.83 432.5,358.67 436.67,357.5 437.5,355 438.67,348.33 440.83,344.67Z" fill="#d9f0a3" stroke="#d9f0a3" stroke-width="1.3" stroke-opacity="1"/>
<path d="M438.67,345 440.83,344.67 442,350 443.33,355 444.17,360 442.5,363 440.83,358.33 439.17,355 438,353.33Z" fill="#78c679" stroke="#78c679" stroke-width="1.3" stroke-opacity="1"/>
<path d="M400,394.67 403.33,395.33 407,396.17 408,387.5 410.83,390 415,386.67 420,387.5 423.33,383.33 428.33,378.33 433.33,378.33 434.17,381.67 435,387.5 436.33,387.5 435.83,392.5 432.5,398.33 427.5,403.33 420,408 412.5,408.67 405.83,410.83 403.33,408.33 402.5,401.67Z" fill="#78c679" stroke="#78c679" stroke-width="1.3" stroke-opacity="1"/>
<path d="M423,397.5 425.83,395 428,396.67 425.83,399.67 423.67,399.67Z" fill="#f7fcb9" stroke="#f7fcb9" stroke-width="1.3" stroke-opacity="1"/>
<path d="M432,387.5 434.17,386.67 435,390 433,391.33 431.67,389.67Z" fill="#78c679" stroke="#78c679" stroke-width="1.3" stroke-opacity="1"/>
<path d="M460.83,378.33 462.5,373.33 464.17,362.5 470,360 474.17,354.17 475.83,351.33 478,354.17 478.33,360 475.83,365.83 472.5,376.67 469.17,384.17 465,386.67 461.67,384.17Z" fill="#ffffe5" stroke="#ffffe5" stroke-width="1.3" stroke-opacity="1"/>
<path d="M492.5,372.5 493.67,372.17 493.83,373.33 492.67,373.67Z" fill="#238443" stroke="#238443" stroke-width="1.3" stroke-opacity="1"/>
<path d="M448.33,283.33 451.67,280 453.33,276.67 458.33,283.33 461.67,287.5 458.67,287.5 453.33,282.5Z" fill="#ffffe5" stroke="#ffffe5" stroke-width="1.3" stroke-opacity="1"/>
<path d="M441.67,289.17 445,282.5 448.33,283.33 453.33,282.5 458.67,287.5 459.17,291.33 461.67,290.83 463.33,293.33 473.33,296.67 468.33,300 458.33,310 451.67,309.17 445,306.67 443.33,303.33 439.17,292.5Z" fill="#ffffe5" stroke="#ffffe5" stroke-width="1.3" stroke-opacity="1"/>
<path d="M458.67,287.5 461.33,287 461.67,290.83 459.17,291.33Z" fill="#d9f0a3" stroke="#d9f0a3" stroke-width="1.3" stroke-opacity="1"/>
<path d="M414.17,141.33 418.33,143 426.67,144.67 433,147.5 431.33,150 426.67,150 421.67,149.67 420,150.83 424.17,153.67 428.33,155 432.5,152.5 435,151.67 434.17,149.17 435.83,145.83 440,147.5 442.5,148.67 445.29,148.24 448.82,146.47 453.53,144.94 455.29,146.12 460.59,144.71 464.12,145.29 463.53,142.94 468.82,143.53 474.71,144.71 479.41,146.12 477.06,143.53 473.53,141.76 472.35,139.41 474.12,136.47 476.47,135.88 480,136.47 481.18,139.41 482.94,141.76 485.29,144.71 487.06,147.65 486.47,150.59 488.24,150.82 490.24,148.24 488.82,145.29 485.88,142.94 484.12,140.59 482.35,138.24 482.94,136.47 485.29,138.24 487.06,139.41 485.88,137.65 488.82,137.41 492.35,137.06 494.71,138.59 492.35,135.88 490.24,134.71 493.53,134.12 498.82,133.88 497.65,132.35 501.76,130.82 507.65,129.41 512.35,128.47 517.06,127.29 522.94,127.65 530,128.47 537,130 539,132.4 535,134 544,135 554,136 560,134.4 568,136 574,138 579,140 586,138.4 591,137.6 598,137 608,139 618,140 628,143 640,143 645,142.4 648,145 653,142.4 662,143.6 670,148 677,153 679,156 685.6,159 681,160 677,165 673,164 666,166 669,171 674,177 675.6,182 675,187 670,184 664,178 659,172 658,169 661,163 658,159.6 655,163 649,163.6 647,167 651,168 645,168 638,167 629,168 625,173 624,178 632,180 639,180 643,185 646,191 647,198 645,204 642,208 637,208 638,202 637.6,198 636,194 632,195 626,192 619,189 614,186 610,182 604,181 600,183 601,189 598,190 590,191 584,190 574,189.6 566,188 559,185.6 558,189.6 550,188 545,189 539,192 530,189 523,187 517,183 511,179 507,180.4 502,179 496,176.4 490,179 483,181 482,187 470,187.6 470,185 463.33,185.83 457.5,190 460,193.33 460,198.33 465.83,205 462.5,208.33 460.83,211.67 455,209.17 446.67,206.67 441.67,203.33 440,200 440.83,198.67 437.5,198.33 441.67,196.67 443.33,192.5 436.67,190 430,187.5 430,185 424.17,186.33 423.33,184.17 426.67,181.67 425,178.33 419.17,175 416.67,174.17 415.83,171.67 415,169.17 414.17,165.83 415.83,164.17 419.67,158.67 417.5,153.33 415,149.17 413.33,144.17Z" fill="#d9f0a3" stroke="#d9f0a3" stroke-width="1.3" stroke-opacity="1"/>
<path d="M446.47,138.24 447.65,134.71 450,131.53 455.29,129.41 461.76,128.24 466.71,128 467.06,129.18 462.94,130 458.24,131.18 454.12,133.53 452.35,136.47 453.53,138.82 457.65,140.59 456.47,141.41 451.76,140.24 448.24,139.41Z" fill="#d9f0a3" stroke="#d9f0a3" stroke-width="1.3" stroke-opacity="1"/>
<path d="M493.53,121.18 497.65,120 502.94,121.18 508.24,123.53 507.65,124.71 502.94,124.12 498.24,122.94 494.12,122.12Z" fill="#d9f0a3" stroke="#d9f0a3" stroke-width="1.3" stroke-opacity="1"/>
<path d="M510.59,123.53 514.71,123.76 517.65,124.94 517.06,125.88 512.35,125.65 510.59,124.94Z" fill="#d9f0a3" stroke="#d9f0a3" stroke-width="1.3" stroke-opacity="1"/>
<path d="M574,130 579,129 587,131 584,132.4 576,131.6Z" fill="#d9f0a3" stroke="#d9f0a3" stroke-width="1.3" stroke-opacity="1"/>
<path d="M589,131 596,131 596.4,132.4 590,132Z" fill="#d9f0a3" stroke="#d9f0a3" stroke-width="1.3" stroke-opacity="1"/>
<path d="M585,135 591,134.4 591.6,136.4 586,136.4Z" fill="#d9f0a3" stroke="#d9f0a3" stroke-width="1.3" stroke-opacity="1"/>
<path d="M655,139.4 657.6,139 658,140.6 655.6,140.8Z" fill="#d9f0a3" stroke="#d9f0a3" stroke-width="1.3" stroke-opacity="1"/>
<path d="M457.5,190 463.33,185.83 470,185 482,187 483,181 490,179 496,176.4 502,179 507,180.4 511,179 517,183 523,187 530,189 539,191.6 537,196 533,198 532,202 529,204 530,207 524,208 516,207.6 511,209.6 504,207.6 497,206 490,204 484,201.6 479,202 480,205 478.33,210 475,211.67 472.5,208.33 470,201.67 462.5,199.17 460,198.33 460,193.33Z" fill="#ffffe5" stroke="#ffffe5" stroke-width="1.3" stroke-opacity="1"/>
<path d="M440.83,225 446.67,223.67 453.33,223 452.5,228.33 446.67,233.33 442.5,234.17 441.67,229.17Z" fill="#ffffe5" stroke="#ffffe5" stroke-width="1.3" stroke-opacity="1"/>
<path d="M453.33,223 457.5,220.33 460.83,225 463.33,231.67 468.33,239.17 467,243.67 461.67,241.17 454.17,237 449.17,234.5 446.67,233.33 452.5,228.33Z" fill="#ffffe5" stroke="#ffffe5" stroke-width="1.3" stroke-opacity="1"/>
<path d="M440.83,230.83 442.5,230 442.5,233.33 441,234.17Z" fill="#41ab5d" stroke="#41ab5d" stroke-width="1.3" stroke-opacity="1"/>
<path d="M439.17,235 441.33,234.17 441,240 440,242.5 439.33,240Z" fill="#238443" stroke="#238443" stroke-width="1.3" stroke-opacity="1"/>
<path d="M441.33,234.17 442.5,234.17 446.67,233.33 449.17,234.5 446.67,239.17 444.17,242.5 440.33,243 441,240Z" fill="#41ab5d" stroke="#41ab5d" stroke-width="1.3" stroke-opacity="1"/>
<path d="M440.33,243 444.17,242.5 446.67,239.17 449.17,234.5 454.17,237 461.67,241.17 467,243.67 468.67,245.83 470.83,245.83 475,251.67 476.67,255.83 480,257.5 480.83,260.33 487.5,261.67 488.33,267.5 481.67,270.33 471.67,274.5 460.83,276.33 457.5,270 451.67,263.33 446.67,255 442.5,247.5Z" fill="#41ab5d" stroke="#41ab5d" stroke-width="1.3" stroke-opacity="1"/>
<path d="M460.83,276.33 471.67,274.5 481.67,270.33 483.33,276.67 480,280 471.67,283.33 463.33,286.67 461.67,283.33Z" fill="#ffffe5" stroke="#ffffe5" stroke-width="1.3" stroke-opacity="1"/>
<path d="M539,192 545,189 550,188 558,189.6 559,185.6 566,188 574,189.6 584,190 590,191 598,190.4 597,194 603,195.6 607.6,197.6 600,200 595,203 593,207 585,210.4 576,209.6 566,209 558,205 550,202 547,196 541,193Z" fill="#ffffe5" stroke="#ffffe5" stroke-width="1.3" stroke-opacity="1"/>
<path d="M539,191.6 541,193 547,196 550,202 558,205 566,209 576,209.6 585,210.4 593,207 595,203 600,200 607.6,197.6 603,195.6 597,194 598,190.4 601,189 600,183 604,181 610,182 614,186 619,189 626,192 632,195 636,194 637.6,198 638,202 636,208 633.33,210 629.17,215 626.67,216.67 622.5,214.17 619.17,215 615.83,219.17 619.17,221.67 624.17,220.83 627.5,223.33 624.17,226.67 623,229.17 626.67,231.67 630.83,235.83 632.5,240 634.17,244.17 632.5,250 630,255 625.83,259.17 620.83,261.67 615,264.17 610.83,265.83 605.83,263.33 601.67,260.83 599.17,260 594.17,261.67 592.5,263.33 588.33,260.83 584.17,256.67 582.5,251.67 580.83,247.5 577.5,245.83 575.83,243.67 570,245 567.5,247.5 561.67,247.5 561.67,247.5 560,247.5 553.33,245 546.67,240.83 540.83,241.67 536.67,236.67 532.5,231.67 530,229.17 527.5,225 523.33,223.33 522.5,220.83 520.83,216.67 525,213.33 530.83,210 530,206.67 530,207 529,204 532,202 533,198 537,196Z" fill="#238443" stroke="#238443" stroke-width="1.3" stroke-opacity="1"/>
<path d="M634.17,255 636.33,254.17 636.67,258.33 635.33,263 633.67,260Z" fill="#005a32" stroke="#005a32" stroke-width="1.3" stroke-opacity="1"/>
<path d="M593.33,304.17 596.67,302.5 600,305.83 602.5,310.83 603.83,315.83 601.67,316.67 597.5,312.5 594.67,308.33Z" fill="#005a32" stroke="#005a32" stroke-width="1.3" stroke-opacity="1"/>
<path d="M615.83,315.83 620,313.33 624.17,310 628.33,305.83 631.67,301.67 635,304.17 637.5,305.83 635.83,308.33 634.17,309.17 630,310 626.67,315 621.67,316.67 618.33,315Z" fill="#005a32" stroke="#005a32" stroke-width="1.3" stroke-opacity="1"/>
<path d="M582.5,306.33 587.5,305.83 593.33,311.67 599.17,318.33 603.33,324.17 607.5,329.17 606.67,335 602.5,333.33 596.67,325.83 591.67,318.33 586.67,310.83Z" fill="#41ab5d" stroke="#41ab5d" stroke-width="1.3" stroke-opacity="1"/>
<path d="M605.83,336.33 610,335.33 618.33,337.5 623.33,339.17 628.33,340.83 627.5,343 620,342 612.5,340 607.5,338.67Z" fill="#41ab5d" stroke="#41ab5d" stroke-width="1.3" stroke-opacity="1"/>
<path d="M631.33,342.5 635.83,341.33 636.67,343 632.5,343.67Z" fill="#41ab5d" stroke="#41ab5d" stroke-width="1.3" stroke-opacity="1"/>
<path d="M638.33,342 645,340.83 645.83,342.5 640,343.67Z" fill="#41ab5d" stroke="#41ab5d" stroke-width="1.3" stroke-opacity="1"/>
<path d="M636.67,344.67 640,345 640.83,347 637.5,346.33Z" fill="#41ab5d" stroke="#41ab5d" stroke-width="1.3" stroke-opacity="1"/>
<path d="M646.33,345.83 650,343 651.33,344.17 648,347Z" fill="#41ab5d" stroke="#41ab5d" stroke-width="1.3" stroke-opacity="1"/>
<path d="M614.67,317.5 615.83,315.83 618.33,315 621.67,316.67 626.67,315 630,310 634.17,309.17 635,315 636.67,317.5 634.17,320.83 632.5,325.83 630.83,330 626.67,330.83 622.5,329.17 618.33,327.5 615,323.33Z" fill="#41ab5d" stroke="#41ab5d" stroke-width="1.3" stroke-opacity="1"/>
<path d="M637.5,327.5 640,319.17 645.83,316.67 651.67,315.83 651.33,318.33 645,320 641.67,321.67 647.5,322.5 644.17,325.83 645.83,330.83 646.67,334.17 644.17,334.17 642.5,329.17 640.83,330 640.83,334.67 638,334.67Z" fill="#41ab5d" stroke="#41ab5d" stroke-width="1.3" stroke-opacity="1"/>
<path d="M657,315 659.17,314.67 660,319.17 658,322.5 657,319.17Z" fill="#41ab5d" stroke="#41ab5d" stroke-width="1.3" stroke-opacity="1"/>
<path d="M653.33,328.33 656.67,328 656.67,329.67 653.67,329.67Z" fill="#41ab5d" stroke="#41ab5d" stroke-width="1.3" stroke-opacity="1"/>
<path d="M658.33,327.5 663.33,327.5 664.67,329.67 660,329.17Z" fill="#41ab5d" stroke="#41ab5d" stroke-width="1.3" stroke-opacity="1"/>
<path d="M664.67,322 671.67,320.83 673,324.17 679.17,324.17 683.33,325.83 688,327.5 687.5,344.17 683.33,342.5 680,342.5 685,339.17 681.67,333.33 676.67,330.83 672.5,328.33 670,330.83 668.33,327.5 669.67,325Z" fill="#41ab5d" stroke="#41ab5d" stroke-width="1.3" stroke-opacity="1"/>
<path d="M671.67,334.67 673.33,334.17 673,337.5 671.33,337.5Z" fill="#41ab5d" stroke="#41ab5d" stroke-width="1.3" stroke-opacity="1"/>
<path d="M688,327.5 693.33,329.17 699.17,332.5 703.33,336.67 701.67,339.17 705,343.33 708.67,345.83 709.17,348 703.33,345.83 698.33,341.67 693.33,343.33 687.5,344.17Z" fill="#78c679" stroke="#78c679" stroke-width="1.3" stroke-opacity="1"/>
<path d="M525.83,230 530,229.17 532.5,231.67 536.67,236.67 540.83,241.67 542.5,244.75 547.5,246.88 553.75,249.38 559.38,251 560,248.75 561.88,247.5 562.25,249.38 564.38,250 568.5,249.38 568.12,247.25 570,245.62 573.12,243.75 576.88,243.5 578.12,245.62 581.25,246.25 580,248.75 577.5,250 575.62,253.12 573.75,256.88 572.25,259.38 570.62,258.12 571.25,255 569.38,253.75 568.12,251.88 565,251.5 560.62,251.88 561.25,254.38 563.12,258.12 563.75,262.5 560.62,263.75 558.75,267.5 553.75,272.5 548.75,278.12 546.25,280 546.25,288.75 543.75,295 541.88,298.12 541.67,299.17 538.33,293.33 533.33,278.33 530,270 527.5,265 523.33,264.17 518.33,260 517.5,257.5 522.5,256.67 520.83,253.33 519.17,247.5 523.33,243.33 526.67,237.5Z" fill="#78c679" stroke="#78c679" stroke-width="1.3" stroke-opacity="1"/>
<path d="M541.25,242.5 543.75,240.62 547.5,242.5 552.5,245 558.75,246.88 560,248.75 559.38,251 553.75,249.38 547.5,246.88 542.5,244.75Z" fill="#d9f0a3" stroke="#d9f0a3" stroke-width="1.3" stroke-opacity="1"/>
<path d="M561.88,247.5 564.38,246.25 568.12,247.25 568.5,249.38 564.38,250 562.25,249.38Z" fill="#f7fcb9" stroke="#f7fcb9" stroke-width="1.3" stroke-opacity="1"/>
<path d="M560.62,251.88 565,251.5 568.12,251.88 569.38,253.75 571,255.62 570,258.12 571.88,262.5 571.25,264.38 569.38,261.25 566.88,262.75 564.38,261.88 563.12,258.12 561.25,254.38Z" fill="#238443" stroke="#238443" stroke-width="1.3" stroke-opacity="1"/>
<path d="M581.25,246.25 583.12,248.75 583.75,253.12 583.12,256.88 586.25,260 589.38,263.12 591.88,264 590,266.88 586.25,268.12 584.38,270.62 585,273.75 586.88,278.12 588.12,282.5 589.38,288.75 590,292.5 588.75,290 586.88,285 585,278.75 582.5,277.5 578.75,278.12 577.5,274.38 576.25,270 573.75,266.25 572.25,263.75 572.25,259.38 573.75,256.88 575.62,253.12 577.5,250 580,248.75Z" fill="#addd8e" stroke="#addd8e" stroke-width="1.3" stroke-opacity="1"/>
<path d="M584.38,270.62 586.25,268.12 590,266.88 591.88,268.75 593.12,273.12 596.88,273.75 601.25,275.62 603.12,278.12 603.75,281.25 600.62,282.25 597.5,283.75 596.88,286.88 595,285.62 592.5,285 591.88,288.12 590.62,291.25 591.25,295 593.75,299.38 596.88,302.5 593.33,299.17 596.67,302.5 593.33,304.17 590.83,300 588.67,296.67 590.62,300 589,295 589.38,288.75 588.12,282.5 586.88,278.12 585,273.75Z" fill="#238443" stroke="#238443" stroke-width="1.3" stroke-opacity="1"/>
<path d="M590,266.88 591.88,264 593.75,261.88 595.62,265 598.75,266.88 599.38,270 603.75,273.75 606.88,278.12 608.12,281.25 605.62,282.5 603.75,281.25 603.12,278.12 601.25,275.62 596.88,273.75 593.12,273.12 591.88,268.75Z" fill="#addd8e" stroke="#addd8e" stroke-width="1.3" stroke-opacity="1"/>
<path d="M593.75,261.88 595.62,260 600,259.38 603.12,261.88 605.62,264.38 602.5,267.5 603.75,271.25 607.5,276.25 611.25,281.25 613.5,286.25 612.5,290 608.12,293.75 604.38,297.5 603.5,294.38 607.5,291.25 608.75,287.5 608.12,281.88 606.88,278.12 603.75,273.75 599.38,270 598.75,266.88 595.62,265Z" fill="#41ab5d" stroke="#41ab5d" stroke-width="1.3" stroke-opacity="1"/>
<path d="M597.5,283.75 600.62,282.25 603.75,281.25 605.62,282.5 608.12,281.88 609,285 608.12,288.75 605,291.25 601.25,291.88 598.75,289.38 597.25,286.88Z" fill="#d9f0a3" stroke="#d9f0a3" stroke-width="1.3" stroke-opacity="1"/>
<path d="M609.38,268.75 613.12,267.5 614.75,269.38 613.12,272.25 610,271.88Z" fill="#238443" stroke="#238443" stroke-width="1.3" stroke-opacity="1"/>
<path d="M546.25,296.25 548.75,294.38 550.62,298.12 551,302.5 548.75,304.75 546.5,301.88Z" fill="#41ab5d" stroke="#41ab5d" stroke-width="1.3" stroke-opacity="1"/>
<path d="M655.77,202.22 657.4,202.22 660.65,204.93 664.44,204.72 665.53,205.47 666.83,207.1 664.44,208.4 664.23,210.14 661.73,209.05 659.57,210.89 657.94,211.44 656.31,209.05 656.64,206.02Z" fill="#41ab5d" stroke="#41ab5d" stroke-width="1.3" stroke-opacity="1"/>
<path d="M659.57,212.3 661.73,211.98 663.9,214.69 665.53,217.4 666.07,221.73 667.7,226.07 667.48,228.24 664.44,229.32 661.73,230.08 660.11,232.25 657.4,231.82 654.69,233.33 652.52,234.74 650.89,232.03 648.4,230.95 650.89,227.7 654.69,226.83 657.4,226.61 657.72,223.36 659.57,222.82 661.73,220.65 661.19,216.86 660.11,214.47Z" fill="#41ab5d" stroke="#41ab5d" stroke-width="1.3" stroke-opacity="1"/>
<path d="M646.56,233.33 648.4,231.82 650.89,232.25 652.52,235.28 651.98,238.54 650.57,239.08 648.73,236.37Z" fill="#41ab5d" stroke="#41ab5d" stroke-width="1.3" stroke-opacity="1"/>
<path d="M634.63,220.98 637.89,219.57 641.14,221.73 643.31,225.53 643.85,227.7 641.68,229.65 639.51,230.08 637.56,227.7 636.26,224.44Z" fill="#238443" stroke="#238443" stroke-width="1.3" stroke-opacity="1"/>
<path d="M628.13,215.23 630.84,212.52 633.55,211.44 636.26,208.73 637.89,209.27 636.8,212.52 636.26,215.77 634.63,217.4 636.26,219.57 634.63,220.98 630.84,220.98 630.3,217.94Z" fill="#d9f0a3" stroke="#d9f0a3" stroke-width="1.3" stroke-opacity="1"/>
<path d="M640.05,180.54 642.76,182.71 647.1,186.5 651.44,190.3 654.69,192.47 651.98,192.79 653.06,195.72 657.4,199.51 654.69,199.51 651.44,196.26 649.27,192.47 646.02,188.67 642.76,184.88Z" fill="#d9f0a3" stroke="#d9f0a3" stroke-width="1.3" stroke-opacity="1"/>
<path d="M639.6,179.6 642,181.6 646.4,185.6 644,185.6 641,183Z" fill="#d9f0a3" stroke="#d9f0a3" stroke-width="1.3" stroke-opacity="1"/>
<path d="M502.03,207.51 508.03,206.01 517.03,204.51 526.04,207.51 532.04,209.01 529.04,212.01 523.04,214.26 520.04,217.26 516.28,216.81 514.03,214.26 511.03,214.71 508.03,213.51 506.53,211.26Z" fill="#ffffe5" stroke="#ffffe5" stroke-width="1.3" stroke-opacity="1"/>
<path d="M478.77,202.71 483.27,200.76 489.27,203.01 496.03,206.76 502.03,207.51 506.53,211.26 509.23,212.76 514.03,210.81 517.03,212.76 514.03,214.71 511.03,214.71 508.03,217.26 508.78,221.76 505.78,220.26 502.03,215.76 496.03,214.26 490.02,211.26 485.52,208.71 481.02,211.26 479.52,207.51Z" fill="#41ab5d" stroke="#41ab5d" stroke-width="1.3" stroke-opacity="1"/>
<path d="M508.03,217.26 511.03,214.71 514.03,214.71 516.28,216.81 520.04,217.26 521.54,221.01 518.54,223.27 514.03,221.76 511.03,222.52 508.78,221.76Z" fill="#ffffe5" stroke="#ffffe5" stroke-width="1.3" stroke-opacity="1"/>
<path d="M476.52,214.26 481.02,211.71 485.52,209.01 490.02,211.71 496.03,214.56 502.03,216.21 505.78,220.56 503.53,223.27 499.78,227.02 496.03,226.72 490.02,222.21 484.02,220.71 478.77,221.76 477.27,218.76Z" fill="#addd8e" stroke="#addd8e" stroke-width="1.3" stroke-opacity="1"/>
<path d="M496.03,227.02 499.78,227.02 503.53,223.27 505.78,220.56 508.78,221.76 511.03,222.52 514.03,221.76 518.54,223.27 516.28,227.02 517.79,231.52 514.03,236.77 509.53,239.77 505.78,242.77 499.78,243.22 498.28,237.52 496.03,231.52Z" fill="#ffffe5" stroke="#ffffe5" stroke-width="1.3" stroke-opacity="1"/>
<path d="M458.51,219.51 460.76,217.26 464.51,218.76 468.27,220.71 470.52,223.27 475.02,224.02 478.77,222.06 484.02,221.01 490.02,222.52 496.03,227.02 496.03,231.52 498.28,237.52 499.78,243.22 499.03,245.02 503.53,249.53 501.73,253.28 496.03,254.03 490.02,251.78 487.02,249.83 481.02,251.03 476.52,248.03 472.77,242.77 469.32,241.27 466.01,236.77 463.76,230.77 460.01,224.77Z" fill="#d9f0a3" stroke="#d9f0a3" stroke-width="1.3" stroke-opacity="1"/>
<path d="M499.78,243.52 505.78,242.77 509.53,239.77 514.03,236.77 517.79,231.52 516.28,227.02 519.29,224.32 523.79,223.72 527.54,225.52 530.54,229.27 526.04,230.02 527.54,236.77 523.79,242.77 519.29,248.03 520.79,253.28 522.29,257.03 517.03,257.78 513.28,254.03 503.53,254.33 501.73,253.28 503.53,249.53 499.03,245.02Z" fill="#f7fcb9" stroke="#f7fcb9" stroke-width="1.3" stroke-opacity="1"/>
<path d="M466.76,242.77 469.32,241.27 470.82,243.82 468.72,245.77Z" fill="#005a32" stroke="#005a32" stroke-width="1.3" stroke-opacity="1"/>
<path d="M477.27,252.23 478.92,251.93 479.22,255.53 477.42,255.83Z" fill="#005a32" stroke="#005a32" stroke-width="1.3" stroke-opacity="1"/>
<path d="M479.52,257.33 482.52,256.43 486.27,254.03 488.82,253.28 490.02,255.53 488.82,260.03 487.77,261.53 481.02,260.78Z" fill="#78c679" stroke="#78c679" stroke-width="1.3" stroke-opacity="1"/>
<path d="M490.02,255.53 493.03,258.53 497.83,262.28 496.03,266.78 493.03,271.28 488.52,275.04 483.33,276.67 481.67,270.33 488.33,267.5 487.77,268.28 487.77,261.53 488.82,260.03Z" fill="#238443" stroke="#238443" stroke-width="1.3" stroke-opacity="1"/>
<path d="M636.88,271.88 640.62,271.25 641.88,276.25 641,280 644.38,283.12 646.88,283.75 650,287.5 651.25,290.62 649.38,291.88 648.12,288.75 645,286.25 641.88,285 639.38,283.12 636.88,278.12Z" fill="#41ab5d" stroke="#41ab5d" stroke-width="1.3" stroke-opacity="1"/>
<path d="M642.5,289.38 645,289.38 646.88,293.12 645.62,296.25 643.75,293.12Z" fill="#41ab5d" stroke="#41ab5d" stroke-width="1.3" stroke-opacity="1"/>
<path d="M647.5,291.25 650,290.62 650.62,293.12 648.5,294Z" fill="#41ab5d" stroke="#41ab5d" stroke-width="1.3" stroke-opacity="1"/>
<path d="M638.75,284.75 640.62,285.62 641,288.12 639.38,287.5Z" fill="#41ab5d" stroke="#41ab5d" stroke-width="1.3" stroke-opacity="1"/>
<path d="M643.75,298.75 646.88,297.75 650,295 652.75,295.62 654,300.62 652.75,304.38 651,305.25 649,302.5 646.88,300.62 644.38,301.5Z" fill="#41ab5d" stroke="#41ab5d" stroke-width="1.3" stroke-opacity="1"/>
<path d="M632.25,297.75 634.38,295 636.88,290.62 637.75,291.5 635.62,295.62 633.12,298.5Z" fill="#41ab5d" stroke="#41ab5d" stroke-width="1.3" stroke-opacity="1"/>
<path d="M420,217 421.5,214.5 424.5,212.5 428,212 431,211 434.5,210.2 438,210.5 442,211.5 445,212.2 449,212.5 451,211.5 455,212.2 458,213.5 459,216 457.5,219 458,221.5 455,222.8 451,223.8 447,224.2 445,225 442,224.5 439,225.5 435,225 432,224.2 428,224.8 425,224 422,221.5 420.5,219.5Z" fill="#addd8e" stroke="#addd8e" stroke-width="1.3" stroke-opacity="1"/>
<path d="M419,213.5 421.5,212.5 422.8,213.5 421,214.5 419.2,214.8Z" fill="#addd8e" stroke="#addd8e" stroke-width="1.3" stroke-opacity="1"/>
<path d="M449,209 451.5,208.5 455,209.5 459,210.5 460.5,212.2 458,213.5 455,212.2 451,211.5 450.5,211Z" fill="#addd8e" stroke="#addd8e" stroke-width="1.3" stroke-opacity="1"/>
<path d="M457.5,213.8 460,213 461.8,214.5 463,216.5 461,216.8 459,216Z" fill="#d9f0a3" stroke="#d9f0a3" stroke-width="1.3" stroke-opacity="1"/>
<path d="M460.5,212.2 463,210 465,211.5 468,213 469.5,215.5 468,217 466.5,215 464,215.5 463,216.5 461.8,214.5 460,213Z" fill="#d9f0a3" stroke="#d9f0a3" stroke-width="1.3" stroke-opacity="1"/>
<path d="M614.17,408.33 616.67,404.17 617.5,396.67 616.67,389.17 619.17,380 620.83,377.5 626.67,374.17 635,370.83 640.83,365 645.83,360.83 653.33,356.33 659.17,358.33 660.83,354.17 666.67,349.17 671.67,351.67 676.67,351.33 673,359.17 677.5,362.5 682.5,366.33 685.83,360 687,353.33 690,348.33 692,355.83 695,359.17 695.83,365.83 700,373.33 703.33,379.17 705.83,385.83 705,393.33 700.83,401.67 695,408.33 689.17,414.17 683.33,419.17 676.67,421.67 670,420.83 665.83,418.33 664.17,414.17 660.83,410.83 657.5,406.67 651.67,403.33 643.33,404.17 635,407.5 628.33,409.17 620,411.67 615.83,410.83Z" fill="#addd8e" stroke="#addd8e" stroke-width="1.3" stroke-opacity="1"/>
<path d="M668.67,426.67 676.67,426.33 674.17,430.83 669.17,433.33 667.5,430.83Z" fill="#addd8e" stroke="#addd8e" stroke-width="1.3" stroke-opacity="1"/>
<path d="M739.17,410.83 741.67,413.33 742.5,417.5 746.67,418.33 743.33,421.67 739.17,425 734.17,428.33 732.5,426.67 735.83,421.67 738.33,417.5Z" fill="#41ab5d" stroke="#41ab5d" stroke-width="1.3" stroke-opacity="1"/>
<path d="M705.83,439.17 711.67,435.83 720,430.83 726.67,426.67 730.83,426.33 729.17,430 721.67,435 714.17,439.17 710,442 705,441.67Z" fill="#41ab5d" stroke="#41ab5d" stroke-width="1.3" stroke-opacity="1"/>
<path d="M704.38,334.38 708.75,333.12 712.5,331.25 713.75,333.12 710.62,336.25 706.88,336.5Z" fill="#78c679" stroke="#78c679" stroke-width="1.3" stroke-opacity="1"/>
<path d="M710.62,326.25 713.12,327.5 716,330.62 715,332.25 713.12,329.75 710.62,327.5Z" fill="#78c679" stroke="#78c679" stroke-width="1.3" stroke-opacity="1"/>
<path d="M719,333.12 720.62,335 721.88,337.75 720.25,337.75 719,335Z" fill="#78c679" stroke="#78c679" stroke-width="1.3" stroke-opacity="1"/>
<path d="M743.12,358.12 744.75,358.5 745,360.62 743.5,360.62Z" fill="#78c679" stroke="#78c679" stroke-width="1.3" stroke-opacity="1"/>
<path d="M744,361.88 745.25,362.25 745,363.5 744.12,363.12Z" fill="#78c679" stroke="#78c679" stroke-width="1.3" stroke-opacity="1"/>
<path d="M734.38,372.5 736.25,372.25 740,377.5 739,378.75 735.62,375Z" fill="#238443" stroke="#238443" stroke-width="1.3" stroke-opacity="1"/>
<path d="M766,366.25 768.12,365 769.75,366.25 768.12,367.75 766.25,367.75Z" fill="#41ab5d" stroke="#41ab5d" stroke-width="1.3" stroke-opacity="1"/>
<path d="M770,363.5 773.5,361.88 773.75,363.12 770.62,364.62Z" fill="#41ab5d" stroke="#41ab5d" stroke-width="1.3" stroke-opacity="1"/>
<path d="M8.7,267 12,268.5 10.6,271 8.7,270.6Z" fill="#41ab5d" stroke="#41ab5d" stroke-width="1.3" stroke-opacity="1"/>
<path d="M5,263.4 8.2,265 7.8,266 4.8,264.3Z" fill="#41ab5d" stroke="#41ab5d" stroke-width="1.3" stroke-opacity="1"/>
<path d="M2,261.6 3.6,262 3.4,263 1.9,262.6Z" fill="#41ab5d" stroke="#41ab5d" stroke-width="1.3" stroke-opacity="1"/>
<path d="M44,178.4 52,176 60,173.6 70,169 65,168.6 61,167 60,163.6 66,160 73,158 79,156.4 72,154.4 70,152.4 81,150 83,148 82,145.6 92,142 108,139.6 120,141.6 128,142.6 133,144.4 140,142.6 152,141.6 156,143 168,144.4 167.5,145.83 176.67,147.5 186.67,146.33 200,148 204.17,145.83 208.33,140 210.83,142.5 213.33,147.5 215,150 221.67,149.17 224.17,145.83 225.83,149.17 221.67,153.67 215.83,152.5 210,155 208.33,157.5 201.67,157.5 195.83,160.83 189.17,165 187.5,168.33 189.17,171.67 193.33,172.5 198.33,175 202.5,176.67 204.17,178.33 203,183.33 205,186.67 208.33,183.33 209.17,178.33 214.17,176.67 217.5,174.17 218.33,170 217.5,166.67 220,161.67 222.5,159.67 230,160 234.17,162.5 235.83,168.33 240,167.5 244.17,165 246.67,171.67 250.83,176.67 253.67,181.67 252.5,185.83 246.67,188.33 240,191.67 234.17,190 230,191.67 224.17,194.17 220,196.67 218.33,199.17 223.33,198.33 226.67,196.67 231.67,195 233.33,197.5 230,200.83 231.67,200.83 236.67,199.17 239.67,200 235,202.5 229.17,205 225.83,206.67 225,204.17 221.67,205.83 217.5,208.33 215,210 215,210 210,212 204,215 199,219 199.6,222 198,226 192,232 187,236 183.6,240 184,247 183,253 181,254 179,249 178,243 174,241 167,241.6 165,243 158,243 151,245 147,248 145,251 142.4,250 139,243 133,242.4 130,239 123,237.6 114,238 106,235 101,228 99,220 99,214 102,206 109,200 110,199 113.6,196 114,193 111,191 108,189 109,186 109.6,180 110,174 108,169 105,167 100,165.6 94,164 89,163 83,166 77,169 70,171 58,175.6Z" fill="#41ab5d"/>
<path d="M242.5,195 247.5,190 252.5,186.67 253.33,190.83 255.83,193.33 255.33,197.5 252.5,196.67 250,197.5 246.67,195.83Z" fill="#41ab5d"/>
<path d="M216.67,137.5 224.17,135 231.67,135.83 238.33,135 240.83,137.5 246.67,140 250.83,143.33 250,145.83 256.33,149.67 252.5,153 247.5,151.67 245,153.67 247.5,157.5 243.33,160 238.33,159.17 234.17,157 225.83,155 226.67,153.67 233.33,152.5 237.5,150 235,145.83 230,143.33 225.83,145.83 220,142.5 217.5,140Z" fill="#41ab5d"/>
<path d="M224.17,122.5 230,120 238.33,118.67 253.33,117 266.67,116.67 277.5,117.5 268.33,120.33 258.33,123.33 253.33,125.83 246.67,127.5 240,129.17 233.33,128.67 226.67,126.67 231.67,125.33 236.67,123.33 230,123.67 225.83,124.67Z" fill="#41ab5d"/>
<path d="M217.5,128.33 223.33,127.5 226.67,129.67 233.33,130.33 239.17,130.83 238.33,132.5 230,133 223.33,132.5 219.17,130.83Z" fill="#41ab5d"/>
<path d="M175.83,128.67 183.33,126.67 189.67,126.67 185,128.67 180,129.67Z" fill="#41ab5d"/>
<path d="M181.67,130.33 189.17,129.17 200,128.67 200.83,130.83 193.33,132 186.67,132.5Z" fill="#41ab5d"/>
<path d="M194.17,125.83 200.83,124.17 201.67,125.83 195.83,127Z" fill="#41ab5d"/>
<path d="M208.33,123.67 215,124.17 215.83,125.83 210,125.83Z" fill="#41ab5d"/>
<path d="M205,130 211.67,128.67 215.83,130.83 210,132.5 205.83,131.67Z" fill="#41ab5d"/>
<path d="M216.67,124.67 221.67,123.67 222.5,126.33 217.5,126.67Z" fill="#41ab5d"/>
<path d="M160.83,137.5 166.67,134.17 176.67,133.33 180.83,135 174.17,137.5 180,139.17 189.17,136.67 195.83,135 197,136.67 192.5,140 195.83,143.33 193.33,145.33 185,144.17 177.5,145.83 172.5,146.33 168.33,144.17 170.83,141.67 165,140.83Z" fill="#41ab5d"/>
<path d="M198.33,136.67 204.17,134.67 209.17,134.17 207.5,137.5 203.33,139.17 200.83,140.83 197.5,139.17Z" fill="#41ab5d"/>
<path d="M210,135 215.83,133.67 219.17,134.67 215,137.5 210.83,138Z" fill="#41ab5d"/>
<path d="M197.5,143.33 201.67,142.5 203.33,144.67 199.17,145.83Z" fill="#41ab5d"/>
<path d="M210,155.33 214.17,152.5 217.5,153.67 220.83,156.33 216.67,157.5 212.5,157.5Z" fill="#41ab5d"/>
<path d="M212,158.67 215.83,158 216.33,159.67 213,160Z" fill="#41ab5d"/>
<path d="M103.6,181 106,179.6 107,182 105,185 103.4,184Z" fill="#41ab5d"/>
<path d="M71,171.6 76,170 76.4,171.6 72,173Z" fill="#41ab5d"/>
<path d="M57,157 61,157 61.6,158.4 57.6,158.4Z" fill="#41ab5d"/>
<path d="M55,164.4 59,164 59,165.6 55.6,166Z" fill="#41ab5d"/>
<path d="M48,153.6 53,150.4 60,145 63,148 68,149.6 67,152 61,153 58,155.6 54,154.4 52,152.4Z" fill="#d9f0a3"/>
<path d="M67.6,139.6 71.6,138.8 72.4,140 68.4,140.6Z" fill="#d9f0a3"/>
<path d="M255,126 266,121.6 280,118.4 304,117 328,117 345,119.6 338,121 334,126 332,133 328,138 320,143 308,148 296,153 288,160 282,165 276,163 272,158 271,150 275,143 273,138 270,132 264,129 257,128.4Z" fill="url(#hatch)" stroke="#d9d9d9" stroke-opacity="1"/>
<path d="M321,151.6 328,150.4 337,150 338.6,153 334,156 328,157 323,155.6Z" fill="#78c679"/>
<path d="M197,269 201,268.4 201,272 197,271.6Z" fill="#f7fcb9"/>
<path d="M201,268.4 206,269 207.6,271.6 204,273 201,272.4Z" fill="#78c679"/>
<path d="M210,271.6 214,271.6 214,273 210,273Z" fill="#addd8e"/>
<path d="M220.4,292 223,291.6 223,294 221,294Z" fill="#41ab5d"/>
<path d="M105.62,235 110,234.75 113.75,236.88 120,237.5 125,237.25 128.75,236.88 131.25,240 132.5,243.75 136.88,242.5 138.75,243.75 140.62,247.5 143.12,251.25 145,252.5 144,256.88 143.12,261.25 143.75,265 145,268.12 147.5,271.25 151.25,271.88 155,270 157.5,266.88 160,264.75 164.38,264 166.88,264.75 165,268.12 163.12,271.25 160,272.25 156.88,274.38 155,276.88 152.75,280 151.25,279.38 148.12,276.88 142.5,279 137.5,276.88 132.5,274.38 127.5,271.25 124,268.75 124.38,265 122.25,261.25 120.62,257.5 118.5,253.12 116.5,248.75 114.75,243.75 114,239 112.5,237.25 110.25,237.5 110.25,242.5 111.62,247.5 113.5,252.5 115.38,257.25 116.5,259.38 115,260.25 113.12,258.12 111.25,253.75 109.75,249.38 106.88,248.12 108.12,245.62 106.88,241.25 106,237.5Z" fill="#d9f0a3"/>
<path d="M152.75,280 155,276.88 156.88,274.38 160,272.25 163.12,271.5 162.5,275 160,277.5 160.62,280 158.12,282.5 155,283.5 153.12,281.88Z" fill="#41ab5d"/>
<path d="M160,280 162.5,278.75 167.5,278.5 171.88,279.38 173.12,281.25 168.75,282.5 165.62,283.75 163.12,285.62 161.25,283.75Z" fill="#41ab5d"/>
<path d="M157.25,282.75 160,282.75 162.25,284.38 161.25,285.62 158.12,284.38Z" fill="#d9f0a3"/>
<path d="M163.12,285.88 166,283.75 168.75,282.75 173.12,281.5 172.5,286.25 171.25,290 169.38,291.25 166.25,290 164.38,288.12Z" fill="#78c679"/>
<path d="M165.62,291.25 168.75,291.5 171.25,293.12 173.12,296.25 171.5,298.12 169.38,295.62 166.88,294.38Z" fill="#005a32"/>
<path d="M173.12,296.5 176.25,295.62 180,295 183.12,296.25 185.25,298.12 186.88,300 184.38,299.75 182.5,298.12 180,296.88 177.5,298.12 175,298.75Z" fill="#41ab5d"/>
<path d="M171.25,262.25 175,260 180,259.75 185,261.25 190,264.38 195,266.25 198.75,267.75 198.5,269 195,268.38 190,268.12 187.5,266.88 188.12,265 184.38,263.12 180,261.88 175.62,262.25 172.5,263.5Z" fill="#f7fcb9"/>
<path d="M185,271.88 188.12,271.5 189.38,273.12 186.88,273.75Z" fill="#addd8e"/>
<path d="M184.76,299.26 190.26,291.92 195.76,289.17 199.43,287.7 199.98,290.09 196.68,292.84 195.76,297.42 198.51,301.09 206.76,302.92 207.31,310.26 210.43,317.59 206.76,315.76 203.1,316.68 202.18,326.76 199.43,325.85 193.93,322.18 189.34,319.43 183.84,317.59 181.64,314.84 183.84,310.26 184.76,303.84Z" fill="#238443"/>
<path d="M196.68,292.84 199.98,290.09 203.1,288.8 206.76,291.37 215.02,293.2 221.43,293.2 223.27,295.59 224.18,299.26 222.35,302.92 224.18,307.51 219.6,309.34 215.93,310.26 215.02,313.93 210.43,317.59 207.31,310.26 206.76,302.92 198.51,301.09 195.76,297.42Z" fill="#d9f0a3"/>
<path d="M224.18,299.26 226.94,300.17 230.6,305.31 229.69,309.34 231.52,314.84 227.85,316.68 225.1,313.93 224.18,307.51 222.35,302.92Z" fill="#78c679"/>
<path d="M230.6,305.31 237.02,305.31 237.94,311.18 235.19,314.48 231.52,314.84 229.69,309.34Z" fill="#addd8e"/>
<path d="M237.02,305.31 242.16,306.04 244.36,310.26 241.61,314.48 237.94,313.93 237.94,311.18Z" fill="#238443"/>
<path d="M178.34,317.59 183.84,317.59 189.34,319.43 189.71,323.1 185.67,325.85 181.64,332.26 178.34,329.51 176.14,324.01Z" fill="#41ab5d"/>
<path d="M175.59,332.26 178.34,329.51 181.64,332.26 185.67,325.85 189.71,323.1 193.93,322.18 199.43,325.85 201.26,327.31 197.59,332.26 194.84,333.18 193.38,338.68 195.76,344.18 201.26,347.85 204.01,349.69 205.48,358.86 204.01,367.66 199.43,364.72 189.34,357.94 182.92,345.1 177.42,335.93Z" fill="#78c679"/>
<path d="M204.01,349.32 213.18,345.65 215.02,349.69 224.18,355.19 225.1,360.69 230.6,362.52 232.44,369.86 224.18,370.78 221.43,377.19 216.85,379.03 212.26,378.11 209.51,380.86 206.76,373.53 204.01,367.66 205.48,358.86Z" fill="#ffffe5"/>
<path d="M210.43,317.59 215.02,313.93 215.93,310.26 219.6,309.34 224.18,307.51 225.1,313.93 227.85,316.68 231.52,314.84 235.19,314.48 237.94,313.93 241.61,314.48 244.36,310.26 247.11,315.76 246.19,319.43 251.69,321.26 259.94,324.93 264.53,327.68 270.95,328.05 277.37,331.35 281.95,334.1 282.87,339.6 280.12,346.02 277.37,350.6 274.62,355.19 273.7,366.19 270.95,373.53 270.03,379.03 262.7,380.86 257.19,384.53 254.44,390.03 254.67,393.33 251.67,399.17 248.33,404.17 246.33,405.83 242.5,401.67 237.5,398.67 237.5,397.5 243,390.83 242.5,387.5 241.33,387.5 240,382.5 237.5,379.17 232.5,377.5 230,371.67 232.44,369.86 230.6,362.52 225.1,360.69 224.18,355.19 215.02,349.69 213.18,345.65 204.01,349.32 201.26,347.85 195.76,344.18 193.38,338.68 194.84,333.18 197.59,332.26 201.26,327.31 202.18,326.76 203.1,316.68 206.76,315.76Z" fill="#005a32"/>
<path d="M221.67,377.5 221.67,372.5 225.83,370.83 230,371.67 232.5,377.5 237.5,379.17 240,382.5 241.33,387.5 239.17,391.67 233.33,391.33 232.5,386.67 225.83,380.83Z" fill="#238443"/>
<path d="M235.83,400 237.5,398.67 242.5,401.67 246.33,405.83 245.33,409.17 242.5,411.33 238.33,410 235.83,408.33 235,405.83Z" fill="#41ab5d"/>
<path d="M210.83,380.83 213.33,377.5 217.5,378.33 221.67,377.5 225.83,380.83 232.5,386.67 233.33,391.33 239.17,391.67 242.5,387.5 243,390.83 237.5,397.5 235.83,400 235,405.83 236.67,410 239.17,412.5 240.83,417.5 237.5,420.83 230.83,421.67 229.17,425 230.83,427.5 225.83,428.33 227.5,430.83 229.17,433.33 225.83,437.5 224.67,440 228.33,442.5 229.67,445 226.67,449.17 225.83,453.33 227.5,455 225.83,455.83 221.67,453.33 217.5,448.33 216.67,440 214.17,433.33 212,426.67 210.83,418.33 211.33,410 210,405 208,395.83 209.67,390Z" fill="#ffffe5"/>
<path d="M228,456.33 233.33,460.83 236.67,461.67 230,460Z" fill="#ffffe5"/>
<path d="M204.01,367.66 206.76,373.53 210.83,380.83 209.67,390 208,395.83 210,405 211.33,410 210.83,418.33 212,426.67 214.17,433.33 216.67,440 217.5,448.33 221.67,453.33 225.83,455.83 227.5,455 228.33,459.17 233.33,460.83 233.33,464.17 226.67,462.5 220,459.17 214.17,453.33 210.83,445.83 208.33,440 209.17,433.33 206.67,426.67 205,418.33 205.83,408.33 204.17,396.67 205,383.33 203.33,370Z" fill="#d9f0a3"/>
<path d="M378.33,123 388.33,121.33 401.67,121.33 400.83,123 393.33,124.17 390,126.67 386.67,128 381.67,125.33Z" fill="#41ab5d"/>
<path d="M394.17,125.33 399.17,125 399.67,126.33 395,126.67Z" fill="#41ab5d"/>
<path d="M426.67,120.83 435.83,120.33 436.17,121.67 427.5,122Z" fill="#d9f0a3"/>
<path d="M372.5,160 378.33,156.67 383.33,152.5 388.33,147.5 395,143.33 402.5,140.33 410,140 414.17,141.33 413.33,144.17 409.17,142.5 405,144.17 400.83,145 396.67,144.17 393.33,145.83 390,149.17 386.67,153.33 385,157.5 384.67,161.67 383.33,166.67 379.17,169.17 374.17,168.33 372.5,164.17Z" fill="#41ab5d"/>
<path d="M385,157.5 386.67,153.33 390,149.17 393.33,145.83 396.67,144.33 400.83,145.33 402,147.5 403.33,150.83 400,154.17 396.67,158.33 395.83,161.67 397.5,165 395.83,169.17 394.17,174.17 390,175.83 386.67,173.33 384.17,167.5 384.67,161.67Z" fill="#78c679"/>
<path d="M400.83,145.33 405,144.17 409.17,142.5 413.33,144.17 415,149.17 417.5,153.33 419.67,158.67 415.83,163.67 410,165 405,164.17 401.67,160.83 402.5,156.67 406.67,153.33 405.83,150.83 403.33,150.83 402,147.5Z" fill="#78c679"/>
<path d="M406.67,166.67 414.17,165.83 415,169.17 410,170.83 406.67,170Z" fill="#78c679"/>
<path d="M403.33,172 410,170.83 415.83,171.67 416.67,174.17 410,175 403.33,175Z" fill="#78c679"/>
<path d="M403.33,175 410,175 416.67,174.17 419.17,175 413.33,176.17 412.5,179.17 408.33,180.33 404.17,178.33Z" fill="#41ab5d"/>
<path d="M409.17,180.83 412.5,179.17 413.33,176.17 419.17,175 425,178.33 426.67,181.67 423.33,184.17 424.17,186.33 418.33,186.67 411.67,185.83 410.83,187.5Z" fill="#238443"/>
<path d="M390.83,180 396.67,178.33 403.33,178 404.17,178.33 408.33,180.33 409.17,180.83 409.17,183.33 410.83,187.5 409.17,191.33 403.33,192 397.5,189.5 391.67,187 390,183.33Z" fill="#41ab5d"/>
<path d="M375.83,181.67 379.17,180.83 379.17,178.33 381.67,179.17 386.67,180 390.83,180 390,183.33 391.67,187 388.33,188.33 390,191.67 388.33,195.33 383.33,196 378.67,193.67 375.83,189.5 376.33,185Z" fill="#41ab5d"/>
<path d="M371.67,182.5 375.83,181.33 376.33,185 373.33,186.67 370.83,185.83Z" fill="#41ab5d"/>
<path d="M368.33,187 373.33,186.67 376.33,185.33 375.83,189.5 373.33,191.17 370,189.67Z" fill="#238443"/>
<path d="M354.17,194.17 360,190.83 363.33,188.67 368.33,187.5 374.17,190.83 375.83,188.33 376.67,190.83 377.5,195 375.83,196.67 375.83,199.17 378,203.33 375.83,206.67 371.67,209.67 368.33,208.33 360,206.67 360.83,200.83 356.67,196.67Z" fill="#78c679"/>
<path d="M380.83,208.33 383,208 383,212.5 381.33,213.33Z" fill="#78c679"/>
<path d="M344.17,208.33 350,205.83 360,206.67 368.33,208.33 371.67,210 365.83,213.33 362.5,218.33 360.83,220.83 355.83,223.33 351.67,225.83 347.5,223.67 348.67,220 349.17,210.83 344.67,210Z" fill="#78c679"/>
<path d="M344.17,210 349.17,210.83 348.67,220 347.5,223.67 343.67,222.5 342.5,216.67Z" fill="#41ab5d"/>
<path d="M378,200.83 378.33,200 383,198.33 387.5,197.5 392.5,199.17 393.33,201.67 389.17,201.67 390,205.83 394.17,210 399.17,214.17 402.5,217.5 400.83,220.83 398.33,220 399.17,216.67 395,215 390.83,211.67 386.67,208.33 383.33,205 379.17,205Z" fill="#78c679"/>
<path d="M390.83,220.83 396.67,220 395.83,223.67 391.67,222.5Z" fill="#78c679"/>
<path d="M380.83,214.17 383.67,213.67 383.67,217.5 380.83,218Z" fill="#78c679"/>
<path d="M375.83,196.67 377.5,195 382.5,195.83 383,198.33 378.33,200 375.83,199.17Z" fill="#78c679"/>
<path d="M382.5,195.83 388.33,193.67 390.83,191.67 396.67,193 397.5,195.33 396.67,196.67 392.5,198.67 387.5,197.5 383,198.33Z" fill="#78c679"/>
<path d="M388.33,188.33 394.17,187.5 400,190 396.67,193 390.83,191.67Z" fill="#addd8e"/>
<path d="M396.67,193 400,190 408.33,191.67 407.5,194 401.67,195 397.5,195.33Z" fill="#addd8e"/>
<path d="M396.67,196.67 397.5,195.33 401.67,195 407.5,194 410,195.83 406.67,196.67 405.83,200 403.33,200.33 400,201.17 395.83,198.67Z" fill="#78c679"/>
<path d="M390.83,199.17 392.5,198.67 395.83,198.67 395.83,200.83 392,201.33Z" fill="#41ab5d"/>
<path d="M392,201.33 395.83,200.83 400,201.17 403.33,200.33 403.33,203.33 396.67,203.33 399.17,206.67 403.33,210.33 400,208.67 395.83,205 393.33,203.33Z" fill="#41ab5d"/>
<path d="M396.67,203.33 403.33,203.33 403.33,207.5 400.83,208.67 398.33,206.33Z" fill="#78c679"/>
<path d="M403.33,200.33 405.83,200 408.33,201.67 411.67,205.33 411.33,209.17 408.33,209.67 405,208.67 403.33,207.5Z" fill="#78c679"/>
<path d="M403.33,207.5 405,208.67 406.33,210.33 404.17,210.33Z" fill="#addd8e"/>
<path d="M406.67,196.67 413.33,194.67 418.33,194.67 421.33,200 423.33,201.33 425.83,201.67 425,205.33 416.67,206.17 411.67,205.33 408.33,201.67 405.83,200Z" fill="#78c679"/>
<path d="M418.33,194.67 420.83,194.17 424.17,198.33 423.33,201.33 421.33,200Z" fill="#d9f0a3"/>
<path d="M411.67,205.33 416.67,206.17 425,205.33 424.17,209.17 420.83,211.33 414.17,212 411.33,209.17Z" fill="#addd8e"/>
<path d="M407,212.5 411.67,212 420,211.33 420.83,213.33 415,214.17 413.33,217.5 415.83,221.67 413.33,224.67 410,222.5 407.5,217.5Z" fill="#78c679"/>
<path d="M404.17,210.33 406.33,210.33 407,214.17 405.33,215.83 403.83,213.33Z" fill="#d9f0a3"/>
<path d="M406.33,210.33 408.33,209.67 411.33,209.17 411.67,212 407,212.5Z" fill="#addd8e"/>
<path d="M414.17,227.17 420,227.5 419.67,228.83 414.67,228.33Z" fill="#41ab5d"/>
<path d="M433,228 436.67,227 436.33,229.17 433.67,229.5Z" fill="#41ab5d"/>
<path d="M410,186.67 416.67,185.83 423.33,184.67 430,187.5 436.67,190 443.33,192.5 441.67,196.67 437.5,198.33 434.17,201.67 436.67,199.67 440,198.67 440.83,201.33 435.83,202.5 430,199.67 426.67,197.5 424.17,198.33 420.83,194.17 418.33,194.67 413.33,194.67 410,195.83 407.5,194 408.33,191.67 411.67,189.17Z" fill="#addd8e"/>
<path d="M351.5,172 353.5,169.5 356.5,168.8 358.5,170.5 357.5,173 359.5,175 361,178.5 363.5,181.5 365.8,183.5 365.5,186.5 362.5,187.8 358,188.5 355,189 352,189.8 354,187 353,185 355,183.5 356.5,181.5 355,179.5 353.5,177.5 352,175Z" fill="#41ab5d"/>
<path d="M348.5,177.5 351,177 351.8,179.2 350,179.5Z" fill="#41ab5d"/>
<path d="M344,181.5 345.5,179 348.5,177.8 350,179.5 351.8,179.5 351,182.5 348,184.8 344,185.5Z" fill="#238443"/>
<path d="M378.5,173 381.5,171.2 383,172.5 382.5,175.5 382,178.5 379.5,178.2 378.8,175.5Z" fill="#41ab5d"/>
<path d="M384,175.5 386.5,175 386.8,177.2 384.5,177.8Z" fill="#41ab5d"/>
<path d="M401,177.8 405,177.2 405.5,178.8 401.5,179Z" fill="#d9f0a3"/>
<path d="M380.83,223.67 385,223 386.67,228.33 385.83,231.67 388.33,234.17 385,237.5 383.67,240 381.67,235 379.67,231.67Z" fill="#ffffe5"/>
<path d="M352.5,227.5 359.17,225.83 365,224.17 373.33,223.33 380.83,223.67 379.67,231.67 381.67,235 383.67,240 384.17,246.67 385,253.33 389.17,257.5 380,265 372.5,270 365,264.17 349.17,254.17 344.17,250.83 344.17,245.83 351.67,242.5 360,234.17 359.17,229.17Z" fill="#d9f0a3"/>
<path d="M335,247.5 341.67,241.67 344.17,235 348.33,230 352.5,227.5 359.17,229.17 360,234.17 351.67,242.5 344.17,245.83 343.33,248Z" fill="#addd8e"/>
<path d="M330,252 335,247.83 343.33,248 343.33,251.67 338.33,253.33 336.67,257.5 333.33,258.33 333,263.33 330,263.67Z" fill="url(#hatch)" stroke="#d9d9d9" stroke-opacity="1"/>
<path d="M385,237.5 388.33,234.17 394.17,235.83 400,238.33 405,240 408.33,235.83 413.33,235 417.5,236.67 418.33,237.5 419.17,250 420,262.5 420,267.5 398.33,259.67 395.83,260.83 389.17,257.5 385,253.33 384.17,246.67 383.67,240Z" fill="#f7fcb9"/>
<path d="M418.33,237.5 423.33,238.33 430,236.67 435,238.33 439.17,237.5 440.33,244.17 438.33,245.83 436.67,243.33 439.17,250 443.33,258.33 445.83,262.5 420,262.5 419.17,250Z" fill="#41ab5d"/>
<path d="M330,263.67 333,263.33 333.33,258.33 336.67,257.5 338.33,253.33 343.33,251.67 344.17,250.83 349.17,254.17 350,260 350.83,279.17 336.67,280.33 334.17,278.33 326.67,276.67 325,270 323.67,263.33Z" fill="#d9f0a3"/>
<path d="M323.33,281.67 326.67,277 331.67,276.67 335,279.17 336.67,280.83 340,285 339.17,287.5 335.83,287.5 330,288 325,287.5Z" fill="#addd8e"/>
<path d="M325.83,288 330,288 329.17,290.33 326.67,290Z" fill="#d9f0a3"/>
<path d="M329.17,290.33 330,288 335.83,287.5 341.67,287.5 343.33,290.83 344.67,295 342.5,299.17 340,297.5 336.67,293.33 333.33,294.17 330.83,292.5Z" fill="#ffffe5"/>
<path d="M333,295 336.67,293.67 339.17,298 335.83,301.33 333.33,299.17Z" fill="#ffffe5"/>
<path d="M336.67,301.67 339.17,298 342.5,299.67 345,305 344.17,308.33 340,305Z" fill="#d9f0a3"/>
<path d="M349.17,254.17 365,264.17 372.5,270 371.67,269.17 371.67,275 366.67,280 360.83,280.83 355.83,285 351.67,286.67 350.83,292.5 345,293 342.5,287.5 339.17,287.5 340,285 336.67,280.83 350.83,279.17 350,260Z" fill="#f7fcb9"/>
<path d="M351.67,286.67 355.83,285 360.83,280.83 366.33,280.33 368.33,288.33 365,291.33 355.83,292.17 351.33,292.67Z" fill="#d9f0a3"/>
<path d="M345,293.33 350.83,292.83 355.83,292.5 356.33,301.67 355.83,306.67 349.17,307.5 345,308.33 345,305 343,300 344.67,295.83Z" fill="#d9f0a3"/>
<path d="M355.83,292.5 363.67,292 364.67,304.17 360,306.67 355.83,307 356.33,301.67Z" fill="#d9f0a3"/>
<path d="M363.67,292 365.83,291.67 366.67,303.67 364.67,304.17Z" fill="#d9f0a3"/>
<path d="M365.83,291.67 368.33,288.67 372.5,285 370.83,290 370,296.67 369.17,303.33 366.67,303.67Z" fill="#d9f0a3"/>
<path d="M370.83,290 373.33,284.17 378.33,285 386.67,285.83 393.33,285 395.83,288.33 393.33,294.17 390,300 385.83,302.5 382.5,307.5 379.17,309.17 375.83,305.83 369.17,303.67 370,296.67Z" fill="#ffffe5"/>
<path d="M372.5,270 380,265 389.17,257.5 395.83,260.83 397.5,268.33 398.33,276.67 394.17,281.67 393.33,285 386.67,285.83 378.33,285 373.33,284.17 368.33,288.33 365,283.33 366.67,280 371.67,275 371.67,269.17Z" fill="#ffffe5"/>
<path d="M395.83,260.83 398.33,259.67 420,267.5 416.67,268.33 416.67,281.67 414.17,286.67 416.67,289.67 412.5,292.5 407.5,295.83 402.5,300 398.33,298.33 397.5,294.17 395.83,288.33 394.17,281.67 398.33,276.67 397.5,268.33Z" fill="#d9f0a3"/>
<path d="M420,262.5 445.83,262.5 447.5,270 450,274.17 447.5,278.33 445,282.5 441.67,289.17 439.17,292.5 436.67,288.33 435,292.5 426.67,295 420,293.33 416.67,289.17 414.17,286.67 416.67,281.67 416.67,268.33 420,267.5Z" fill="#ffffe5"/>
<path d="M395.83,288.33 397.5,294.17 398.33,298.33 396.67,303.33 398.33,310 399.67,314.17 393.33,313.67 387.5,313.33 384.17,313.33 383,308.33 385.83,303 390,300 393.33,294.17Z" fill="#addd8e"/>
<path d="M398.33,298.67 402.5,300 407.5,295.83 412.5,292.5 415.83,291.67 420,295.83 424.17,301.67 426.67,305.83 420,307.5 415,309.17 410,307.5 405,309.17 400,311.67 398.33,310 396.67,303.33Z" fill="#ffffe5"/>
<path d="M416.67,289.17 420,293.33 426.67,295 435,292.5 436.67,288.33 439.17,292.5 443.33,303.33 445,306.67 440,310 433.33,310 428.33,308.33 426.67,305.83 424.17,301.67 420,295.83 415.83,291.67Z" fill="#ffffe5"/>
<path d="M384.67,314.17 388.33,314.17 388.33,316.67 384.67,316.67Z" fill="#d9f0a3"/>
<path d="M384.17,317.5 388.33,317 388.67,314.17 393.33,314.17 394.17,316.67 396.67,317.5 395.83,324.17 392.5,326.67 390.83,325.83 389.17,330 385.83,326.67 383.33,322.5Z" fill="#78c679"/>
<path d="M393.33,314.17 399.67,314.17 401.67,311.67 405,309.67 405.83,313.33 403.33,318.33 401.67,323.33 398.33,328.33 395,331.67 390.83,332.5 389.17,330 390.83,325.83 392.5,326.67 395.83,324.17 396.67,317.5 394.17,316.67Z" fill="#d9f0a3"/>
<path d="M405,309.17 410,307.5 415,309.17 420,307.5 426.67,305.83 428.33,308.33 433.33,310 434.17,314.17 431.67,320 430,326.67 430.83,333.33 430,340 429.17,342.5 433.33,341.67 429.17,342.5 428.33,347.5 430,354.17 428.33,353.33 423.33,350.83 418.33,349.67 417.5,349.17 414.17,348.33 412.5,338.33 407.5,339.17 402.5,340.83 400.83,335.33 400.83,335 392.5,335 390.83,332.5 395,331.67 398.33,328.33 401.67,323.33 403.33,318.33 405.83,313.33Z" fill="#ffffe5"/>
<path d="M433.33,310 440,310 442.5,313.33 440.83,317.5 436.67,322.5 431.67,322.5 431.67,320 434.17,314.17Z" fill="#ffffe5"/>
<path d="M442.5,307.5 445,306.67 451.67,309.17 458.33,310 456.67,316.67 457.5,325 453.33,331.67 447.5,326.67 441.67,322.5 440.83,317.5 442.5,313.33 440,310Z" fill="#addd8e"/>
<path d="M430.33,323.67 433.33,323 434.17,326.33 431.33,327Z" fill="#d9f0a3"/>
<path d="M430.83,327.5 433.67,327 433.33,330.83 431.33,330.83Z" fill="#d9f0a3"/>
<path d="M434.17,323 436.67,322.5 441.67,322.5 447.5,326.67 453.33,331.67 452.5,338.33 455,346.67 455.83,347.5 449.17,349.17 442,350.83 440.83,344.67 438.33,344.17 433.33,341.67 430,340 430.83,333.33 430,326.67 434.17,326.33Z" fill="#f7fcb9"/>
<path d="M391.67,335.83 400.83,335.33 402.5,340.83 407.5,339.17 412.5,338.33 414.17,348.33 417.5,349.17 416.67,353.33 413.33,355 413,361.67 415,365.83 410.83,366.17 390,364.5 390.83,356.67 393.33,350 393.33,341.67Z" fill="#f7fcb9"/>
<path d="M388.67,330.83 390.83,332.83 389.17,335 388,333.33Z" fill="#f7fcb9"/>
<path d="M390,364.67 410.83,366.17 416.67,365.83 418.33,367 410.83,368 408.33,378.33 408,387.5 407,395.83 403.33,395 400,394.17 396.67,387.5 395,378.33 391.67,370Z" fill="#ffffe5"/>
<path d="M410.83,368 418.33,367 420.83,368 425,374.17 428.33,378.33 423.33,383.33 420,387.5 415,386.67 410.83,390 408.33,387.5 408.33,378.33Z" fill="#78c679"/>
<path d="M420.83,368 426.67,363.33 431.67,360.83 436.67,362.5 438,368.33 436.67,374.17 433.33,378.33 428.33,378 425,374.17Z" fill="#f7fcb9"/>
<path d="M413,355 416.67,353.33 417.5,349.17 418.33,349.67 423.33,350.83 428.33,353.33 430,354.17 428.33,347.5 429.17,342.5 433.33,341.67 438.33,344.17 438.67,348.33 437.5,355 436.67,357.5 432.5,358.67 431.67,360.83 426.67,363.33 420.83,368 418.33,367 416.67,365.83 415,365.83 413,361.67Z" fill="#d9f0a3"/>
<path d="M442,350.83 449.17,349.17 455.83,347.5 456.67,358.33 451.67,363.33 445.83,368.33 441.67,372.5 442.5,378.33 443.33,382.5 436.67,386.67 435,387.5 434.17,381.67 433.33,378.33 436.67,374.17 438,368.33 436.67,362.5 431.67,360.83 432.5,358.67 436.67,357.5 437.5,355 438.67,348.33 440.83,344.67Z" fill="#d9f0a3"/>
<path d="M438.67,345 440.83,344.67 442,350 443.33,355 444.17,360 442.5,363 440.83,358.33 439.17,355 438,353.33Z" fill="#78c679"/>
<path d="M400,394.67 403.33,395.33 407,396.17 408,387.5 410.83,390 415,386.67 420,387.5 423.33,383.33 428.33,378.33 433.33,378.33 434.17,381.67 435,387.5 436.33,387.5 435.83,392.5 432.5,398.33 427.5,403.33 420,408 412.5,408.67 405.83,410.83 403.33,408.33 402.5,401.67Z" fill="#78c679"/>
<path d="M423,397.5 425.83,395 428,396.67 425.83,399.67 423.67,399.67Z" fill="#f7fcb9"/>
<path d="M432,387.5 434.17,386.67 435,390 433,391.33 431.67,389.67Z" fill="#78c679"/>
<path d="M460.83,378.33 462.5,373.33 464.17,362.5 470,360 474.17,354.17 475.83,351.33 478,354.17 478.33,360 475.83,365.83 472.5,376.67 469.17,384.17 465,386.67 461.67,384.17Z" fill="#ffffe5"/>
<path d="M492.5,372.5 493.67,372.17 493.83,373.33 492.67,373.67Z" fill="#238443"/>
<path d="M448.33,283.33 451.67,280 453.33,276.67 458.33,283.33 461.67,287.5 458.67,287.5 453.33,282.5Z" fill="#ffffe5"/>
<path d="M441.67,289.17 445,282.5 448.33,283.33 453.33,282.5 458.67,287.5 459.17,291.33 461.67,290.83 463.33,293.33 473.33,296.67 468.33,300 458.33,310 451.67,309.17 445,306.67 443.33,303.33 439.17,292.5Z" fill="#ffffe5"/>
<path d="M458.67,287.5 461.33,287 461.67,290.83 459.17,291.33Z" fill="#d9f0a3"/>
<path d="M461.67,290.83 463.33,292.5 473.33,290 480,288.33 480.83,293.33 478.33,300 463.33,315 459.17,325 457.5,325 456.67,316.67 458.33,310 468.33,300 473.33,296.67 463.33,293.33Z" fill="url(#hatch)" stroke="#d9d9d9" stroke-opacity="1"/>
<path d="M414.17,141.33 418.33,143 426.67,144.67 433,147.5 431.33,150 426.67,150 421.67,149.67 420,150.83 424.17,153.67 428.33,155 432.5,152.5 435,151.67 434.17,149.17 435.83,145.83 440,147.5 442.5,148.67 445.29,148.24 448.82,146.47 453.53,144.94 455.29,146.12 460.59,144.71 464.12,145.29 463.53,142.94 468.82,143.53 474.71,144.71 479.41,146.12 477.06,143.53 473.53,141.76 472.35,139.41 474.12,136.47 476.47,135.88 480,136.47 481.18,139.41 482.94,141.76 485.29,144.71 487.06,147.65 486.47,150.59 488.24,150.82 490.24,148.24 488.82,145.29 485.88,142.94 484.12,140.59 482.35,138.24 482.94,136.47 485.29,138.24 487.06,139.41 485.88,137.65 488.82,137.41 492.35,137.06 494.71,138.59 492.35,135.88 490.24,134.71 493.53,134.12 498.82,133.88 497.65,132.35 501.76,130.82 507.65,129.41 512.35,128.47 517.06,127.29 522.94,127.65 530,128.47 537,130 539,132.4 535,134 544,135 554,136 560,134.4 568,136 574,138 579,140 586,138.4 591,137.6 598,137 608,139 618,140 628,143 640,143 645,142.4 648,145 653,142.4 662,143.6 670,148 677,153 679,156 685.6,159 681,160 677,165 673,164 666,166 669,171 674,177 675.6,182 675,187 670,184 664,178 659,172 658,169 661,163 658,159.6 655,163 649,163.6 647,167 651,168 645,168 638,167 629,168 625,173 624,178 632,180 639,180 643,185 646,191 647,198 645,204 642,208 637,208 638,202 637.6,198 636,194 632,195 626,192 619,189 614,186 610,182 604,181 600,183 601,189 598,190 590,191 584,190 574,189.6 566,188 559,185.6 558,189.6 550,188 545,189 539,192 530,189 523,187 517,183 511,179 507,180.4 502,179 496,176.4 490,179 483,181 482,187 470,187.6 470,185 463.33,185.83 457.5,190 460,193.33 460,198.33 465.83,205 462.5,208.33 460.83,211.67 455,209.17 446.67,206.67 441.67,203.33 440,200 440.83,198.67 437.5,198.33 441.67,196.67 443.33,192.5 436.67,190 430,187.5 430,185 424.17,186.33 423.33,184.17 426.67,181.67 425,178.33 419.17,175 416.67,174.17 415.83,171.67 415,169.17 414.17,165.83 415.83,164.17 419.67,158.67 417.5,153.33 415,149.17 413.33,144.17Z" fill="#d9f0a3"/>
<path d="M446.47,138.24 447.65,134.71 450,131.53 455.29,129.41 461.76,128.24 466.71,128 467.06,129.18 462.94,130 458.24,131.18 454.12,133.53 452.35,136.47 453.53,138.82 457.65,140.59 456.47,141.41 451.76,140.24 448.24,139.41Z" fill="#d9f0a3"/>
<path d="M493.53,121.18 497.65,120 502.94,121.18 508.24,123.53 507.65,124.71 502.94,124.12 498.24,122.94 494.12,122.12Z" fill="#d9f0a3"/>
<path d="M510.59,123.53 514.71,123.76 517.65,124.94 517.06,125.88 512.35,125.65 510.59,124.94Z" fill="#d9f0a3"/>
<path d="M574,130 579,129 587,131 584,132.4 576,131.6Z" fill="#d9f0a3"/>
<path d="M589,131 596,131 596.4,132.4 590,132Z" fill="#d9f0a3"/>
<path d="M585,135 591,134.4 591.6,136.4 586,136.4Z" fill="#d9f0a3"/>
<path d="M655,139.4 657.6,139 658,140.6 655.6,140.8Z" fill="#d9f0a3"/>
<path d="M457.5,190 463.33,185.83 470,185 482,187 483,181 490,179 496,176.4 502,179 507,180.4 511,179 517,183 523,187 530,189 539,191.6 537,196 533,198 532,202 529,204 530,207 524,208 516,207.6 511,209.6 504,207.6 497,206 490,204 484,201.6 479,202 480,205 478.33,210 475,211.67 472.5,208.33 470,201.67 462.5,199.17 460,198.33 460,193.33Z" fill="#ffffe5"/>
<path d="M440.83,225 446.67,223.67 453.33,223 452.5,228.33 446.67,233.33 442.5,234.17 441.67,229.17Z" fill="#ffffe5"/>
<path d="M453.33,223 457.5,220.33 460.83,225 463.33,231.67 468.33,239.17 467,243.67 461.67,241.17 454.17,237 449.17,234.5 446.67,233.33 452.5,228.33Z" fill="#ffffe5"/>
<path d="M440.83,230.83 442.5,230 442.5,233.33 441,234.17Z" fill="#41ab5d"/>
<path d="M439.17,235 441.33,234.17 441,240 440,242.5 439.33,240Z" fill="#238443"/>
<path d="M441.33,234.17 442.5,234.17 446.67,233.33 449.17,234.5 446.67,239.17 444.17,242.5 440.33,243 441,240Z" fill="#41ab5d"/>
<path d="M440.33,243 444.17,242.5 446.67,239.17 449.17,234.5 454.17,237 461.67,241.17 467,243.67 468.67,245.83 470.83,245.83 475,251.67 476.67,255.83 480,257.5 480.83,260.33 487.5,261.67 488.33,267.5 481.67,270.33 471.67,274.5 460.83,276.33 457.5,270 451.67,263.33 446.67,255 442.5,247.5Z" fill="#41ab5d"/>
<path d="M460.83,276.33 471.67,274.5 481.67,270.33 483.33,276.67 480,280 471.67,283.33 463.33,286.67 461.67,283.33Z" fill="#ffffe5"/>
<path d="M539,192 545,189 550,188 558,189.6 559,185.6 566,188 574,189.6 584,190 590,191 598,190.4 597,194 603,195.6 607.6,197.6 600,200 595,203 593,207 585,210.4 576,209.6 566,209 558,205 550,202 547,196 541,193Z" fill="#ffffe5"/>
<path d="M539,191.6 541,193 547,196 550,202 558,205 566,209 576,209.6 585,210.4 593,207 595,203 600,200 607.6,197.6 603,195.6 597,194 598,190.4 601,189 600,183 604,181 610,182 614,186 619,189 626,192 632,195 636,194 637.6,198 638,202 636,208 633.33,210 629.17,215 626.67,216.67 622.5,214.17 619.17,215 615.83,219.17 619.17,221.67 624.17,220.83 627.5,223.33 624.17,226.67 623,229.17 626.67,231.67 630.83,235.83 632.5,240 634.17,244.17 632.5,250 630,255 625.83,259.17 620.83,261.67 615,264.17 610.83,265.83 605.83,263.33 601.67,260.83 599.17,260 594.17,261.67 592.5,263.33 588.33,260.83 584.17,256.67 582.5,251.67 580.83,247.5 577.5,245.83 575.83,243.67 570,245 567.5,247.5 561.67,247.5 561.67,247.5 560,247.5 553.33,245 546.67,240.83 540.83,241.67 536.67,236.67 532.5,231.67 530,229.17 527.5,225 523.33,223.33 522.5,220.83 520.83,216.67 525,213.33 530.83,210 530,206.67 530,207 529,204 532,202 533,198 537,196Z" fill="#238443"/>
<path d="M634.17,255 636.33,254.17 636.67,258.33 635.33,263 633.67,260Z" fill="#005a32"/>
<path d="M593.33,304.17 596.67,302.5 600,305.83 602.5,310.83 603.83,315.83 601.67,316.67 597.5,312.5 594.67,308.33Z" fill="#005a32"/>
<path d="M615.83,315.83 620,313.33 624.17,310 628.33,305.83 631.67,301.67 635,304.17 637.5,305.83 635.83,308.33 634.17,309.17 630,310 626.67,315 621.67,316.67 618.33,315Z" fill="#005a32"/>
<path d="M582.5,306.33 587.5,305.83 593.33,311.67 599.17,318.33 603.33,324.17 607.5,329.17 606.67,335 602.5,333.33 596.67,325.83 591.67,318.33 586.67,310.83Z" fill="#41ab5d"/>
<path d="M605.83,336.33 610,335.33 618.33,337.5 623.33,339.17 628.33,340.83 627.5,343 620,342 612.5,340 607.5,338.67Z" fill="#41ab5d"/>
<path d="M631.33,342.5 635.83,341.33 636.67,343 632.5,343.67Z" fill="#41ab5d"/>
<path d="M638.33,342 645,340.83 645.83,342.5 640,343.67Z" fill="#41ab5d"/>
<path d="M636.67,344.67 640,345 640.83,347 637.5,346.33Z" fill="#41ab5d"/>
<path d="M646.33,345.83 650,343 651.33,344.17 648,347Z" fill="#41ab5d"/>
<path d="M614.67,317.5 615.83,315.83 618.33,315 621.67,316.67 626.67,315 630,310 634.17,309.17 635,315 636.67,317.5 634.17,320.83 632.5,325.83 630.83,330 626.67,330.83 622.5,329.17 618.33,327.5 615,323.33Z" fill="#41ab5d"/>
<path d="M637.5,327.5 640,319.17 645.83,316.67 651.67,315.83 651.33,318.33 645,320 641.67,321.67 647.5,322.5 644.17,325.83 645.83,330.83 646.67,334.17 644.17,334.17 642.5,329.17 640.83,330 640.83,334.67 638,334.67Z" fill="#41ab5d"/>
<path d="M657,315 659.17,314.67 660,319.17 658,322.5 657,319.17Z" fill="#41ab5d"/>
<path d="M653.33,328.33 656.67,328 656.67,329.67 653.67,329.67Z" fill="#41ab5d"/>
<path d="M658.33,327.5 663.33,327.5 664.67,329.67 660,329.17Z" fill="#41ab5d"/>
<path d="M664.67,322 671.67,320.83 673,324.17 679.17,324.17 683.33,325.83 688,327.5 687.5,344.17 683.33,342.5 680,342.5 685,339.17 681.67,333.33 676.67,330.83 672.5,328.33 670,330.83 668.33,327.5 669.67,325Z" fill="#41ab5d"/>
<path d="M671.67,334.67 673.33,334.17 673,337.5 671.33,337.5Z" fill="#41ab5d"/>
<path d="M688,327.5 693.33,329.17 699.17,332.5 703.33,336.67 701.67,339.17 705,343.33 708.67,345.83 709.17,348 703.33,345.83 698.33,341.67 693.33,343.33 687.5,344.17Z" fill="#78c679"/>
<path d="M525.83,230 530,229.17 532.5,231.67 536.67,236.67 540.83,241.67 542.5,244.75 547.5,246.88 553.75,249.38 559.38,251 560,248.75 561.88,247.5 562.25,249.38 564.38,250 568.5,249.38 568.12,247.25 570,245.62 573.12,243.75 576.88,243.5 578.12,245.62 581.25,246.25 580,248.75 577.5,250 575.62,253.12 573.75,256.88 572.25,259.38 570.62,258.12 571.25,255 569.38,253.75 568.12,251.88 565,251.5 560.62,251.88 561.25,254.38 563.12,258.12 563.75,262.5 560.62,263.75 558.75,267.5 553.75,272.5 548.75,278.12 546.25,280 546.25,288.75 543.75,295 541.88,298.12 541.67,299.17 538.33,293.33 533.33,278.33 530,270 527.5,265 523.33,264.17 518.33,260 517.5,257.5 522.5,256.67 520.83,253.33 519.17,247.5 523.33,243.33 526.67,237.5Z" fill="#78c679"/>
<path d="M541.25,242.5 543.75,240.62 547.5,242.5 552.5,245 558.75,246.88 560,248.75 559.38,251 553.75,249.38 547.5,246.88 542.5,244.75Z" fill="#d9f0a3"/>
<path d="M561.88,247.5 564.38,246.25 568.12,247.25 568.5,249.38 564.38,250 562.25,249.38Z" fill="#f7fcb9"/>
<path d="M560.62,251.88 565,251.5 568.12,251.88 569.38,253.75 571,255.62 570,258.12 571.88,262.5 571.25,264.38 569.38,261.25 566.88,262.75 564.38,261.88 563.12,258.12 561.25,254.38Z" fill="#238443"/>
<path d="M581.25,246.25 583.12,248.75 583.75,253.12 583.12,256.88 586.25,260 589.38,263.12 591.88,264 590,266.88 586.25,268.12 584.38,270.62 585,273.75 586.88,278.12 588.12,282.5 589.38,288.75 590,292.5 588.75,290 586.88,285 585,278.75 582.5,277.5 578.75,278.12 577.5,274.38 576.25,270 573.75,266.25 572.25,263.75 572.25,259.38 573.75,256.88 575.62,253.12 577.5,250 580,248.75Z" fill="#addd8e"/>
<path d="M584.38,270.62 586.25,268.12 590,266.88 591.88,268.75 593.12,273.12 596.88,273.75 601.25,275.62 603.12,278.12 603.75,281.25 600.62,282.25 597.5,283.75 596.88,286.88 595,285.62 592.5,285 591.88,288.12 590.62,291.25 591.25,295 593.75,299.38 596.88,302.5 593.33,299.17 596.67,302.5 593.33,304.17 590.83,300 588.67,296.67 590.62,300 589,295 589.38,288.75 588.12,282.5 586.88,278.12 585,273.75Z" fill="#238443"/>
<path d="M590,266.88 591.88,264 593.75,261.88 595.62,265 598.75,266.88 599.38,270 603.75,273.75 606.88,278.12 608.12,281.25 605.62,282.5 603.75,281.25 603.12,278.12 601.25,275.62 596.88,273.75 593.12,273.12 591.88,268.75Z" fill="#addd8e"/>
<path d="M593.75,261.88 595.62,260 600,259.38 603.12,261.88 605.62,264.38 602.5,267.5 603.75,271.25 607.5,276.25 611.25,281.25 613.5,286.25 612.5,290 608.12,293.75 604.38,297.5 603.5,294.38 607.5,291.25 608.75,287.5 608.12,281.88 606.88,278.12 603.75,273.75 599.38,270 598.75,266.88 595.62,265Z" fill="#41ab5d"/>
<path d="M597.5,283.75 600.62,282.25 603.75,281.25 605.62,282.5 608.12,281.88 609,285 608.12,288.75 605,291.25 601.25,291.88 598.75,289.38 597.25,286.88Z" fill="#d9f0a3"/>
<path d="M609.38,268.75 613.12,267.5 614.75,269.38 613.12,272.25 610,271.88Z" fill="#238443"/>
<path d="M546.25,296.25 548.75,294.38 550.62,298.12 551,302.5 548.75,304.75 546.5,301.88Z" fill="#41ab5d"/>
<path d="M655.77,202.22 657.4,202.22 660.65,204.93 664.44,204.72 665.53,205.47 666.83,207.1 664.44,208.4 664.23,210.14 661.73,209.05 659.57,210.89 657.94,211.44 656.31,209.05 656.64,206.02Z" fill="#41ab5d"/>
<path d="M659.57,212.3 661.73,211.98 663.9,214.69 665.53,217.4 666.07,221.73 667.7,226.07 667.48,228.24 664.44,229.32 661.73,230.08 660.11,232.25 657.4,231.82 654.69,233.33 652.52,234.74 650.89,232.03 648.4,230.95 650.89,227.7 654.69,226.83 657.4,226.61 657.72,223.36 659.57,222.82 661.73,220.65 661.19,216.86 660.11,214.47Z" fill="#41ab5d"/>
<path d="M646.56,233.33 648.4,231.82 650.89,232.25 652.52,235.28 651.98,238.54 650.57,239.08 648.73,236.37Z" fill="#41ab5d"/>
<path d="M634.63,220.98 637.89,219.57 641.14,221.73 643.31,225.53 643.85,227.7 641.68,229.65 639.51,230.08 637.56,227.7 636.26,224.44Z" fill="#238443"/>
<path d="M628.13,215.23 630.84,212.52 633.55,211.44 636.26,208.73 637.89,209.27 636.8,212.52 636.26,215.77 634.63,217.4 636.26,219.57 634.63,220.98 630.84,220.98 630.3,217.94Z" fill="#d9f0a3"/>
<path d="M640.05,180.54 642.76,182.71 647.1,186.5 651.44,190.3 654.69,192.47 651.98,192.79 653.06,195.72 657.4,199.51 654.69,199.51 651.44,196.26 649.27,192.47 646.02,188.67 642.76,184.88Z" fill="#d9f0a3"/>
<path d="M639.6,179.6 642,181.6 646.4,185.6 644,185.6 641,183Z" fill="#d9f0a3"/>
<path d="M502.03,207.51 508.03,206.01 517.03,204.51 526.04,207.51 532.04,209.01 529.04,212.01 523.04,214.26 520.04,217.26 516.28,216.81 514.03,214.26 511.03,214.71 508.03,213.51 506.53,211.26Z" fill="#ffffe5"/>
<path d="M478.77,202.71 483.27,200.76 489.27,203.01 496.03,206.76 502.03,207.51 506.53,211.26 509.23,212.76 514.03,210.81 517.03,212.76 514.03,214.71 511.03,214.71 508.03,217.26 508.78,221.76 505.78,220.26 502.03,215.76 496.03,214.26 490.02,211.26 485.52,208.71 481.02,211.26 479.52,207.51Z" fill="#41ab5d"/>
<path d="M508.03,217.26 511.03,214.71 514.03,214.71 516.28,216.81 520.04,217.26 521.54,221.01 518.54,223.27 514.03,221.76 511.03,222.52 508.78,221.76Z" fill="#ffffe5"/>
<path d="M476.52,214.26 481.02,211.71 485.52,209.01 490.02,211.71 496.03,214.56 502.03,216.21 505.78,220.56 503.53,223.27 499.78,227.02 496.03,226.72 490.02,222.21 484.02,220.71 478.77,221.76 477.27,218.76Z" fill="#addd8e"/>
<path d="M496.03,227.02 499.78,227.02 503.53,223.27 505.78,220.56 508.78,221.76 511.03,222.52 514.03,221.76 518.54,223.27 516.28,227.02 517.79,231.52 514.03,236.77 509.53,239.77 505.78,242.77 499.78,243.22 498.28,237.52 496.03,231.52Z" fill="#ffffe5"/>
<path d="M458.51,219.51 460.76,217.26 464.51,218.76 468.27,220.71 470.52,223.27 475.02,224.02 478.77,222.06 484.02,221.01 490.02,222.52 496.03,227.02 496.03,231.52 498.28,237.52 499.78,243.22 499.03,245.02 503.53,249.53 501.73,253.28 496.03,254.03 490.02,251.78 487.02,249.83 481.02,251.03 476.52,248.03 472.77,242.77 469.32,241.27 466.01,236.77 463.76,230.77 460.01,224.77Z" fill="#d9f0a3"/>
<path d="M499.78,243.52 505.78,242.77 509.53,239.77 514.03,236.77 517.79,231.52 516.28,227.02 519.29,224.32 523.79,223.72 527.54,225.52 530.54,229.27 526.04,230.02 527.54,236.77 523.79,242.77 519.29,248.03 520.79,253.28 522.29,257.03 517.03,257.78 513.28,254.03 503.53,254.33 501.73,253.28 503.53,249.53 499.03,245.02Z" fill="#f7fcb9"/>
<path d="M469.77,242.77 472.77,242.02 476.52,248.03 481.02,251.33 487.02,249.98 490.02,252.08 496.03,254.33 501.73,253.58 503.53,254.63 500.53,256.28 494.53,256.73 490.02,255.53 488.82,253.28 486.27,253.73 482.52,256.28 479.52,256.73 478.32,252.53 475.02,250.28 472.02,246.52Z" fill="#ffffff"/>
<path d="M466.76,242.77 469.32,241.27 470.82,243.82 468.72,245.77Z" fill="#005a32"/>
<path d="M477.27,252.23 478.92,251.93 479.22,255.53 477.42,255.83Z" fill="#005a32"/>
<path d="M479.52,257.33 482.52,256.43 486.27,254.03 488.82,253.28 490.02,255.53 488.82,260.03 487.77,261.53 481.02,260.78Z" fill="#78c679"/>
<path d="M490.02,255.53 493.03,258.53 497.83,262.28 496.03,266.78 493.03,271.28 488.52,275.04 483.33,276.67 481.67,270.33 488.33,267.5 487.77,268.28 487.77,261.53 488.82,260.03Z" fill="#238443"/>
<path d="M460.76,203.01 462.26,200.01 466.76,198.21 472.02,198.51 472.32,200.76 469.32,203.76 470.52,207.51 474.27,210.51 474.72,212.76 476.52,214.26 476.82,218.76 478.32,221.01 475.02,223.72 470.52,222.82 468.27,220.26 467.82,216.51 469.32,213.51 468.27,210.51 465.26,208.26 462.26,206.01Z" fill="#ffffff"/>
<path d="M636.88,271.88 640.62,271.25 641.88,276.25 641,280 644.38,283.12 646.88,283.75 650,287.5 651.25,290.62 649.38,291.88 648.12,288.75 645,286.25 641.88,285 639.38,283.12 636.88,278.12Z" fill="#41ab5d"/>
<path d="M642.5,289.38 645,289.38 646.88,293.12 645.62,296.25 643.75,293.12Z" fill="#41ab5d"/>
<path d="M647.5,291.25 650,290.62 650.62,293.12 648.5,294Z" fill="#41ab5d"/>
<path d="M638.75,284.75 640.62,285.62 641,288.12 639.38,287.5Z" fill="#41ab5d"/>
<path d="M643.75,298.75 646.88,297.75 650,295 652.75,295.62 654,300.62 652.75,304.38 651,305.25 649,302.5 646.88,300.62 644.38,301.5Z" fill="#41ab5d"/>
<path d="M632.25,297.75 634.38,295 636.88,290.62 637.75,291.5 635.62,295.62 633.12,298.5Z" fill="#41ab5d"/>
<path d="M420,217 421.5,214.5 424.5,212.5 428,212 431,211 434.5,210.2 438,210.5 442,211.5 445,212.2 449,212.5 451,211.5 455,212.2 458,213.5 459,216 457.5,219 458,221.5 455,222.8 451,223.8 447,224.2 445,225 442,224.5 439,225.5 435,225 432,224.2 428,224.8 425,224 422,221.5 420.5,219.5Z" fill="#addd8e"/>
<path d="M419,213.5 421.5,212.5 422.8,213.5 421,214.5 419.2,214.8Z" fill="#addd8e"/>
<path d="M449,209 451.5,208.5 455,209.5 459,210.5 460.5,212.2 458,213.5 455,212.2 451,211.5 450.5,211Z" fill="#addd8e"/>
<path d="M457.5,213.8 460,213 461.8,214.5 463,216.5 461,216.8 459,216Z" fill="#d9f0a3"/>
<path d="M460.5,212.2 463,210 465,211.5 468,213 469.5,215.5 468,217 466.5,215 464,215.5 463,216.5 461.8,214.5 460,213Z" fill="#d9f0a3"/>
<path d="M425,199 429.5,199.5 431.5,200.2 432.2,203.5 434.5,204 435.2,201.8 435,199.2 438,198.2 441,198.6 441.5,200.2 440.2,202 440.2,203.5 443,205 446,206.8 449,209 450.5,211 449,212.5 445,212.2 442,211.5 438,210.5 434.5,210.2 431,211 428,212 424.5,212.2 422.5,212 421.8,209 421.5,207 422.5,204 423.5,201.5Z" fill="#ffffff"/>
<path d="M614.17,408.33 616.67,404.17 617.5,396.67 616.67,389.17 619.17,380 620.83,377.5 626.67,374.17 635,370.83 640.83,365 645.83,360.83 653.33,356.33 659.17,358.33 660.83,354.17 666.67,349.17 671.67,351.67 676.67,351.33 673,359.17 677.5,362.5 682.5,366.33 685.83,360 687,353.33 690,348.33 692,355.83 695,359.17 695.83,365.83 700,373.33 703.33,379.17 705.83,385.83 705,393.33 700.83,401.67 695,408.33 689.17,414.17 683.33,419.17 676.67,421.67 670,420.83 665.83,418.33 664.17,414.17 660.83,410.83 657.5,406.67 651.67,403.33 643.33,404.17 635,407.5 628.33,409.17 620,411.67 615.83,410.83Z" fill="#addd8e"/>
<path d="M668.67,426.67 676.67,426.33 674.17,430.83 669.17,433.33 667.5,430.83Z" fill="#addd8e"/>
<path d="M739.17,410.83 741.67,413.33 742.5,417.5 746.67,418.33 743.33,421.67 739.17,425 734.17,428.33 732.5,426.67 735.83,421.67 738.33,417.5Z" fill="#41ab5d"/>
<path d="M705.83,439.17 711.67,435.83 720,430.83 726.67,426.67 730.83,426.33 729.17,430 721.67,435 714.17,439.17 710,442 705,441.67Z" fill="#41ab5d"/>
<path d="M704.38,334.38 708.75,333.12 712.5,331.25 713.75,333.12 710.62,336.25 706.88,336.5Z" fill="#78c679"/>
<path d="M710.62,326.25 713.12,327.5 716,330.62 715,332.25 713.12,329.75 710.62,327.5Z" fill="#78c679"/>
<path d="M719,333.12 720.62,335 721.88,337.75 720.25,337.75 719,335Z" fill="#78c679"/>
<path d="M723.12,337.5 725.62,338.5 726,339.5 723.5,338.5Z" fill="url(#hatch)" stroke="#d9d9d9" stroke-opacity="1"/>
<path d="M727.25,339.5 730.62,341.25 730.25,342.25 727.25,340.5Z" fill="url(#hatch)" stroke="#d9d9d9" stroke-opacity="1"/>
<path d="M729.75,344 733.12,345 732.75,346.25 729.75,345.25Z" fill="url(#hatch)" stroke="#d9d9d9" stroke-opacity="1"/>
<path d="M732.25,341.88 734,343.5 733.5,344.5 732,342.75Z" fill="url(#hatch)" stroke="#d9d9d9" stroke-opacity="1"/>
<path d="M733.75,347 735.75,347.75 735.5,348.75 733.75,348Z" fill="url(#hatch)" stroke="#d9d9d9" stroke-opacity="1"/>
<path d="M743.12,358.12 744.75,358.5 745,360.62 743.5,360.62Z" fill="#78c679"/>
<path d="M744,361.88 745.25,362.25 745,363.5 744.12,363.12Z" fill="#78c679"/>
<path d="M734.38,372.5 736.25,372.25 740,377.5 739,378.75 735.62,375Z" fill="#238443"/>
<path d="M766,366.25 768.12,365 769.75,366.25 768.12,367.75 766.25,367.75Z" fill="#41ab5d"/>
<path d="M770,363.5 773.5,361.88 773.75,363.12 770.62,364.62Z" fill="#41ab5d"/>
<path d="M8.7,267 12,268.5 10.6,271 8.7,270.6Z" fill="#41ab5d"/>
<path d="M5,263.4 8.2,265 7.8,266 4.8,264.3Z" fill="#41ab5d"/>
<path d="M2,261.6 3.6,262 3.4,263 1.9,262.6Z" fill="#41ab5d"/>
<path d="M128,142.6 104,165 110.4,167 112,175 110,184 114,192" fill="none"/>
<path d="M114,192.4 171,192.4 180,194 187,197 193,203 192,208 188,211" fill="none"/>
<path d="M190.83,210 203.33,207.5 211.67,205 218.33,202.5 220.83,198.33 224.17,194.67" fill="none"/>
</g>
<g id="legend">
<rect x="127.5" y="537" width="48" height="11.5" fill="url(#hatch)" stroke="#b0b0b0" stroke-width=".6"/>
<path d="M151.5,534.3V537" stroke="#8a8a8a" stroke-width=".7"/>
<path d="M195.5,542.7L200.5,537H261.3V548.5H200.5Z" fill="#ffffe5"/>
<rect x="261.3" y="537" width="65.8" height="11.5" fill="#f7fcb9"/>
<rect x="327.1" y="537" width="65.8" height="11.5" fill="#d9f0a3"/>
<rect x="392.9" y="537" width="65.8" height="11.5" fill="#addd8e"/>
<rect x="458.7" y="537" width="65.8" height="11.5" fill="#78c679"/>
<rect x="524.5" y="537" width="65.8" height="11.5" fill="#41ab5d"/>
<rect x="590.3" y="537" width="65.8" height="11.5" fill="#238443"/>
<path d="M656.1,537H717.5L722.5,542.7L717.5,548.5H656.1Z" fill="#005a32"/>
<path d="M195.5,542.7L200.5,537H717.5L722.5,542.7L717.5,548.5H200.5Z" fill="none" stroke="#9a9a9a" stroke-width=".5"/>
<path d="M261.3,534.3V548.5M327.1,534.3V548.5M392.9,534.3V548.5M458.7,534.3V548.5M524.5,534.3V548.5M590.3,534.3V548.5M656.1,534.3V548.5" stroke="#7a7a7a" stroke-width=".7" stroke-opacity=".7"/>
</g>
</svg>
<div class="t lg" style="left:127.6px">No data</div>
<div class="t lg c" style="left:261.3px">1 kg/ha</div>
<div class="t lg c" style="left:327.1px">2 kg/ha</div>
<div class="t lg c" style="left:392.9px">5 kg/ha</div>
<div class="t lg c" style="left:458.7px">10 kg/ha</div>
<div class="t lg c" style="left:524.5px">20 kg/ha</div>
<div class="t lg c" style="left:590.3px">50 kg/ha</div>
<div class="t lg c" style="left:656.1px">100 kg/ha</div>
<div class="t ft" id="f1" style="left:16px"><b>Data source:</b> Food and Agriculture Organization of the United Nations (2025)</div>
<div class="t ft" id="f2" style="left:612px">OurWorldinData.org/fertilizers | CC BY</div>
</body></html>
